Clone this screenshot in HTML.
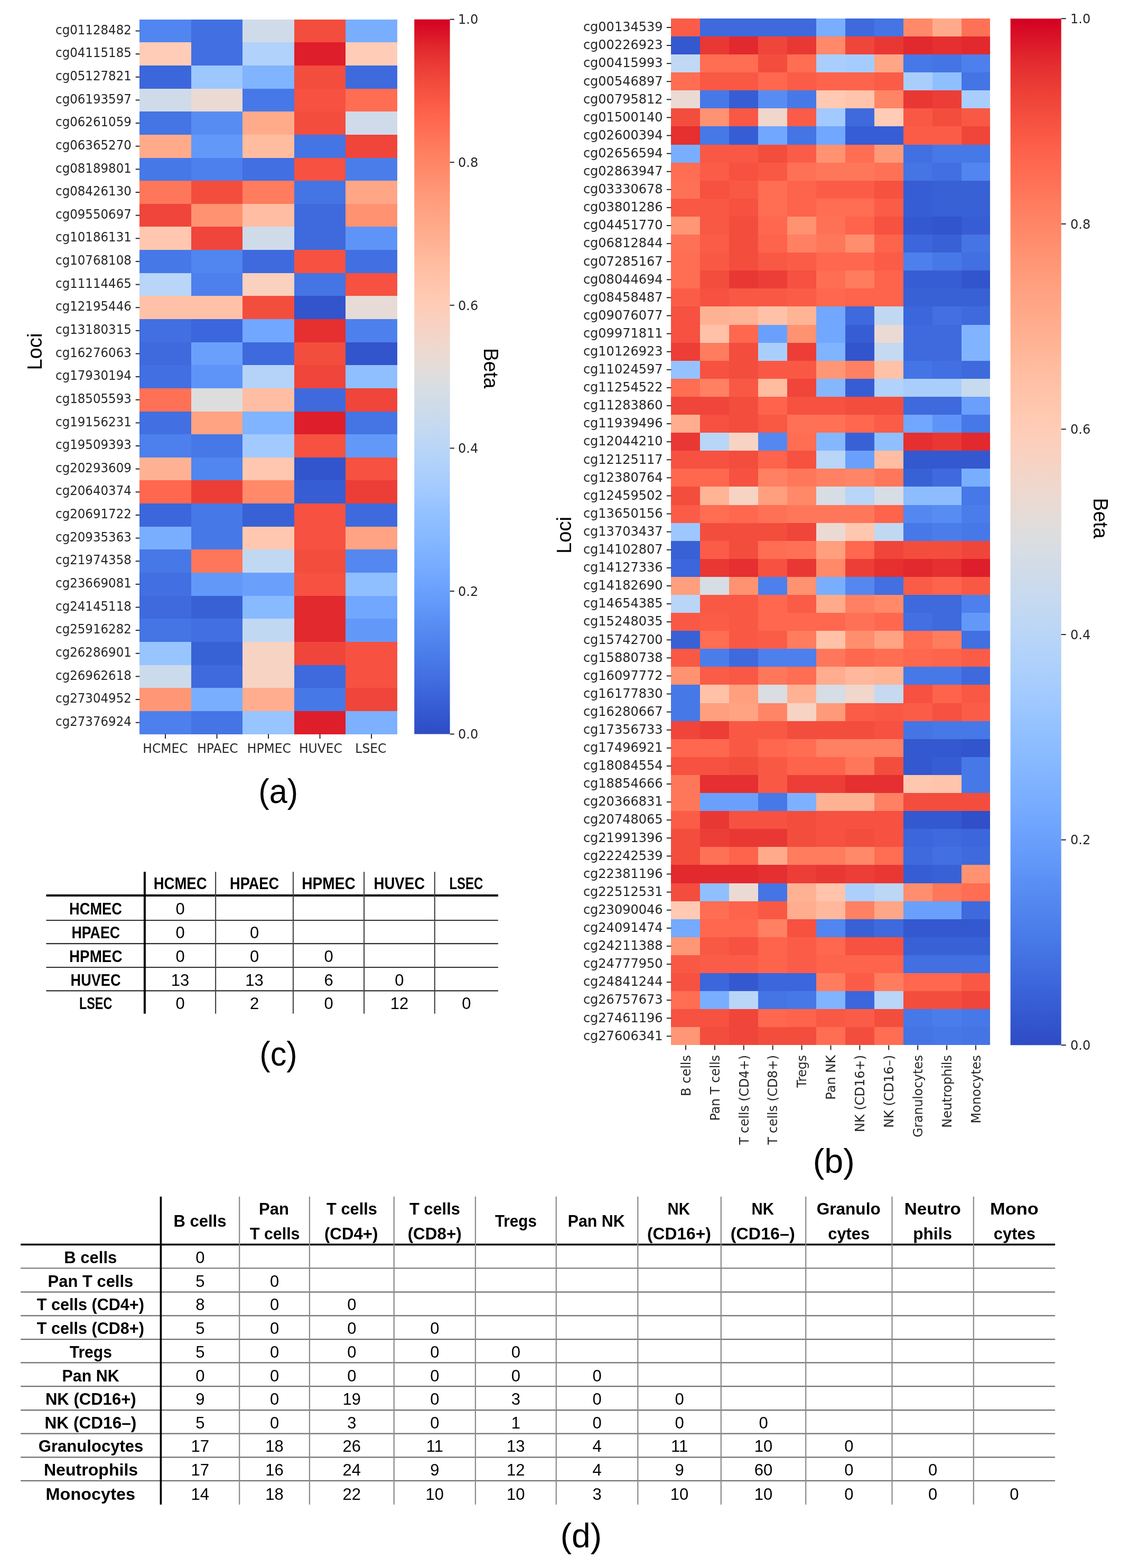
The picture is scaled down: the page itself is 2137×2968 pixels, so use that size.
<!DOCTYPE html>
<html><head><meta charset="utf-8"><title>Figure</title><style>html,body{margin:0;padding:0;background:#fff;overflow:hidden;}svg{display:block;}</style></head><body>
<svg width="2137" height="2968" viewBox="0 0 2137 2968">
<rect x="0" y="0" width="2137" height="2968" fill="#ffffff"/>
<g shape-rendering="crispEdges">
<rect x="264" y="37" width="98" height="43" fill="#5185ef"/>
<rect x="362" y="37" width="97" height="43" fill="#426fe1"/>
<rect x="459" y="37" width="98" height="43" fill="#cfdbe9"/>
<rect x="557" y="37" width="97" height="43" fill="#f34d3e"/>
<rect x="654" y="37" width="98" height="43" fill="#79aeff"/>
<rect x="264" y="80" width="98" height="44" fill="#ffccb7"/>
<rect x="362" y="80" width="97" height="44" fill="#426fe1"/>
<rect x="459" y="80" width="98" height="44" fill="#b1d2fa"/>
<rect x="557" y="80" width="97" height="44" fill="#de1e2a"/>
<rect x="654" y="80" width="98" height="44" fill="#ffccb7"/>
<rect x="264" y="124" width="98" height="44" fill="#3c66db"/>
<rect x="362" y="124" width="97" height="44" fill="#9dc7ff"/>
<rect x="459" y="124" width="98" height="44" fill="#80b4ff"/>
<rect x="557" y="124" width="97" height="44" fill="#f34d3e"/>
<rect x="654" y="124" width="98" height="44" fill="#3e6add"/>
<rect x="264" y="168" width="98" height="43" fill="#cfdbe9"/>
<rect x="362" y="168" width="97" height="43" fill="#eadad3"/>
<rect x="459" y="168" width="98" height="43" fill="#4778e7"/>
<rect x="557" y="168" width="97" height="43" fill="#f65141"/>
<rect x="654" y="168" width="98" height="43" fill="#ff6d53"/>
<rect x="264" y="211" width="98" height="44" fill="#4574e4"/>
<rect x="362" y="211" width="97" height="44" fill="#578df3"/>
<rect x="459" y="211" width="98" height="44" fill="#ffab8b"/>
<rect x="557" y="211" width="97" height="44" fill="#f34d3e"/>
<rect x="654" y="211" width="98" height="44" fill="#cfdbe9"/>
<rect x="264" y="255" width="98" height="44" fill="#ffab8b"/>
<rect x="362" y="255" width="97" height="44" fill="#6299f9"/>
<rect x="459" y="255" width="98" height="44" fill="#ffbc9f"/>
<rect x="557" y="255" width="97" height="44" fill="#4574e4"/>
<rect x="654" y="255" width="98" height="44" fill="#f0453a"/>
<rect x="264" y="299" width="98" height="43" fill="#4778e7"/>
<rect x="362" y="299" width="97" height="43" fill="#4d80ec"/>
<rect x="459" y="299" width="98" height="43" fill="#426fe1"/>
<rect x="557" y="299" width="97" height="43" fill="#f65141"/>
<rect x="654" y="299" width="98" height="43" fill="#4b7dea"/>
<rect x="264" y="342" width="98" height="44" fill="#ff775a"/>
<rect x="362" y="342" width="97" height="44" fill="#f34d3e"/>
<rect x="459" y="342" width="98" height="44" fill="#ff7c5f"/>
<rect x="557" y="342" width="97" height="44" fill="#4574e4"/>
<rect x="654" y="342" width="98" height="44" fill="#ffa686"/>
<rect x="264" y="386" width="98" height="43" fill="#f0453a"/>
<rect x="362" y="386" width="97" height="43" fill="#ff9271"/>
<rect x="459" y="386" width="98" height="43" fill="#ffbea3"/>
<rect x="557" y="386" width="97" height="43" fill="#3e6add"/>
<rect x="654" y="386" width="98" height="43" fill="#ff9271"/>
<rect x="264" y="429" width="98" height="44" fill="#ffc7af"/>
<rect x="362" y="429" width="97" height="44" fill="#f0453a"/>
<rect x="459" y="429" width="98" height="44" fill="#cfdbe9"/>
<rect x="557" y="429" width="97" height="44" fill="#3e6add"/>
<rect x="654" y="429" width="98" height="44" fill="#5e94f7"/>
<rect x="264" y="473" width="98" height="44" fill="#4778e7"/>
<rect x="362" y="473" width="97" height="44" fill="#5185ef"/>
<rect x="459" y="473" width="98" height="44" fill="#3e6add"/>
<rect x="557" y="473" width="97" height="44" fill="#f65141"/>
<rect x="654" y="473" width="98" height="44" fill="#426fe1"/>
<rect x="264" y="517" width="98" height="43" fill="#b9d5f7"/>
<rect x="362" y="517" width="97" height="43" fill="#4d80ec"/>
<rect x="459" y="517" width="98" height="43" fill="#fad0bf"/>
<rect x="557" y="517" width="97" height="43" fill="#4574e4"/>
<rect x="654" y="517" width="98" height="43" fill="#f65141"/>
<rect x="264" y="560" width="98" height="44" fill="#ffc2a8"/>
<rect x="362" y="560" width="97" height="44" fill="#ffc2a8"/>
<rect x="459" y="560" width="98" height="44" fill="#f34d3e"/>
<rect x="557" y="560" width="97" height="44" fill="#3254cc"/>
<rect x="654" y="560" width="98" height="44" fill="#e6dbd6"/>
<rect x="264" y="604" width="98" height="44" fill="#426fe1"/>
<rect x="362" y="604" width="97" height="44" fill="#3c66db"/>
<rect x="459" y="604" width="98" height="44" fill="#71a7fe"/>
<rect x="557" y="604" width="97" height="44" fill="#e52f30"/>
<rect x="654" y="604" width="98" height="44" fill="#4d80ec"/>
<rect x="264" y="648" width="98" height="43" fill="#3e6add"/>
<rect x="362" y="648" width="97" height="43" fill="#6aa0fc"/>
<rect x="459" y="648" width="98" height="43" fill="#3e6add"/>
<rect x="557" y="648" width="97" height="43" fill="#f34d3e"/>
<rect x="654" y="648" width="98" height="43" fill="#3254cc"/>
<rect x="264" y="691" width="98" height="44" fill="#426fe1"/>
<rect x="362" y="691" width="97" height="44" fill="#5e94f7"/>
<rect x="459" y="691" width="98" height="44" fill="#b5d3f9"/>
<rect x="557" y="691" width="97" height="44" fill="#f0453a"/>
<rect x="654" y="691" width="98" height="44" fill="#90bfff"/>
<rect x="264" y="735" width="98" height="44" fill="#ff7156"/>
<rect x="362" y="735" width="97" height="44" fill="#dedddd"/>
<rect x="459" y="735" width="98" height="44" fill="#ffbea3"/>
<rect x="557" y="735" width="97" height="44" fill="#3e6add"/>
<rect x="654" y="735" width="98" height="44" fill="#f0453a"/>
<rect x="264" y="779" width="98" height="43" fill="#426fe1"/>
<rect x="362" y="779" width="97" height="43" fill="#ffa383"/>
<rect x="459" y="779" width="98" height="43" fill="#80b4ff"/>
<rect x="557" y="779" width="97" height="43" fill="#de1e2a"/>
<rect x="654" y="779" width="98" height="43" fill="#4574e4"/>
<rect x="264" y="822" width="98" height="44" fill="#4d80ec"/>
<rect x="362" y="822" width="97" height="44" fill="#4778e7"/>
<rect x="459" y="822" width="98" height="44" fill="#a2caff"/>
<rect x="557" y="822" width="97" height="44" fill="#f65141"/>
<rect x="654" y="822" width="98" height="44" fill="#6299f9"/>
<rect x="264" y="866" width="98" height="43" fill="#ffb293"/>
<rect x="362" y="866" width="97" height="43" fill="#5185ef"/>
<rect x="459" y="866" width="98" height="43" fill="#ffc7af"/>
<rect x="557" y="866" width="97" height="43" fill="#3254cc"/>
<rect x="654" y="866" width="98" height="43" fill="#f65141"/>
<rect x="264" y="909" width="98" height="44" fill="#ff674f"/>
<rect x="362" y="909" width="97" height="44" fill="#ec3e36"/>
<rect x="459" y="909" width="98" height="44" fill="#ff8969"/>
<rect x="557" y="909" width="97" height="44" fill="#375dd4"/>
<rect x="654" y="909" width="98" height="44" fill="#ec3e36"/>
<rect x="264" y="953" width="98" height="44" fill="#3c66db"/>
<rect x="362" y="953" width="97" height="44" fill="#4778e7"/>
<rect x="459" y="953" width="98" height="44" fill="#3961d6"/>
<rect x="557" y="953" width="97" height="44" fill="#f65141"/>
<rect x="654" y="953" width="98" height="44" fill="#3e6add"/>
<rect x="264" y="997" width="98" height="43" fill="#79aeff"/>
<rect x="362" y="997" width="97" height="43" fill="#4778e7"/>
<rect x="459" y="997" width="98" height="43" fill="#ffc7af"/>
<rect x="557" y="997" width="97" height="43" fill="#f65141"/>
<rect x="654" y="997" width="98" height="43" fill="#ffa383"/>
<rect x="264" y="1040" width="98" height="44" fill="#4778e7"/>
<rect x="362" y="1040" width="97" height="44" fill="#ff775a"/>
<rect x="459" y="1040" width="98" height="44" fill="#c1d8f3"/>
<rect x="557" y="1040" width="97" height="44" fill="#f34d3e"/>
<rect x="654" y="1040" width="98" height="44" fill="#5488f0"/>
<rect x="264" y="1084" width="98" height="44" fill="#426fe1"/>
<rect x="362" y="1084" width="97" height="44" fill="#6299f9"/>
<rect x="459" y="1084" width="98" height="44" fill="#6aa0fc"/>
<rect x="557" y="1084" width="97" height="44" fill="#f65141"/>
<rect x="654" y="1084" width="98" height="44" fill="#90bfff"/>
<rect x="264" y="1128" width="98" height="43" fill="#3e6add"/>
<rect x="362" y="1128" width="97" height="43" fill="#3961d6"/>
<rect x="459" y="1128" width="98" height="43" fill="#88baff"/>
<rect x="557" y="1128" width="97" height="43" fill="#e2292e"/>
<rect x="654" y="1128" width="98" height="43" fill="#71a7fe"/>
<rect x="264" y="1171" width="98" height="44" fill="#4574e4"/>
<rect x="362" y="1171" width="97" height="44" fill="#426fe1"/>
<rect x="459" y="1171" width="98" height="44" fill="#c1d8f3"/>
<rect x="557" y="1171" width="97" height="44" fill="#e2292e"/>
<rect x="654" y="1171" width="98" height="44" fill="#6299f9"/>
<rect x="264" y="1215" width="98" height="44" fill="#98c4ff"/>
<rect x="362" y="1215" width="97" height="44" fill="#3961d6"/>
<rect x="459" y="1215" width="98" height="44" fill="#f7d3c4"/>
<rect x="557" y="1215" width="97" height="44" fill="#f0453a"/>
<rect x="654" y="1215" width="98" height="44" fill="#f65141"/>
<rect x="264" y="1259" width="98" height="43" fill="#ccdbeb"/>
<rect x="362" y="1259" width="97" height="43" fill="#3e6add"/>
<rect x="459" y="1259" width="98" height="43" fill="#f7d3c4"/>
<rect x="557" y="1259" width="97" height="43" fill="#3e6add"/>
<rect x="654" y="1259" width="98" height="43" fill="#f65141"/>
<rect x="264" y="1302" width="98" height="44" fill="#ff9776"/>
<rect x="362" y="1302" width="97" height="44" fill="#79aeff"/>
<rect x="459" y="1302" width="98" height="44" fill="#ffad8e"/>
<rect x="557" y="1302" width="97" height="44" fill="#4778e7"/>
<rect x="654" y="1302" width="98" height="44" fill="#f0453a"/>
<rect x="264" y="1346" width="98" height="44" fill="#4d80ec"/>
<rect x="362" y="1346" width="97" height="44" fill="#4574e4"/>
<rect x="459" y="1346" width="98" height="44" fill="#98c4ff"/>
<rect x="557" y="1346" width="97" height="44" fill="#de1e2a"/>
<rect x="654" y="1346" width="98" height="44" fill="#7db1ff"/>
</g>
<line x1="256.70" y1="58.52" x2="264.30" y2="58.52" stroke="#262626" stroke-width="2"/>
<text transform="translate(248.80,64.72) scale(0.955,1)" text-anchor="end" font-family="DejaVu Sans, sans-serif" font-size="24" fill="#262626">cg01128482</text>
<line x1="256.70" y1="102.16" x2="264.30" y2="102.16" stroke="#262626" stroke-width="2"/>
<text transform="translate(248.80,108.36) scale(0.955,1)" text-anchor="end" font-family="DejaVu Sans, sans-serif" font-size="24" fill="#262626">cg04115185</text>
<line x1="256.70" y1="145.80" x2="264.30" y2="145.80" stroke="#262626" stroke-width="2"/>
<text transform="translate(248.80,152.00) scale(0.955,1)" text-anchor="end" font-family="DejaVu Sans, sans-serif" font-size="24" fill="#262626">cg05127821</text>
<line x1="256.70" y1="189.44" x2="264.30" y2="189.44" stroke="#262626" stroke-width="2"/>
<text transform="translate(248.80,195.64) scale(0.955,1)" text-anchor="end" font-family="DejaVu Sans, sans-serif" font-size="24" fill="#262626">cg06193597</text>
<line x1="256.70" y1="233.07" x2="264.30" y2="233.07" stroke="#262626" stroke-width="2"/>
<text transform="translate(248.80,239.27) scale(0.955,1)" text-anchor="end" font-family="DejaVu Sans, sans-serif" font-size="24" fill="#262626">cg06261059</text>
<line x1="256.70" y1="276.71" x2="264.30" y2="276.71" stroke="#262626" stroke-width="2"/>
<text transform="translate(248.80,282.91) scale(0.955,1)" text-anchor="end" font-family="DejaVu Sans, sans-serif" font-size="24" fill="#262626">cg06365270</text>
<line x1="256.70" y1="320.35" x2="264.30" y2="320.35" stroke="#262626" stroke-width="2"/>
<text transform="translate(248.80,326.55) scale(0.955,1)" text-anchor="end" font-family="DejaVu Sans, sans-serif" font-size="24" fill="#262626">cg08189801</text>
<line x1="256.70" y1="363.99" x2="264.30" y2="363.99" stroke="#262626" stroke-width="2"/>
<text transform="translate(248.80,370.19) scale(0.955,1)" text-anchor="end" font-family="DejaVu Sans, sans-serif" font-size="24" fill="#262626">cg08426130</text>
<line x1="256.70" y1="407.63" x2="264.30" y2="407.63" stroke="#262626" stroke-width="2"/>
<text transform="translate(248.80,413.83) scale(0.955,1)" text-anchor="end" font-family="DejaVu Sans, sans-serif" font-size="24" fill="#262626">cg09550697</text>
<line x1="256.70" y1="451.27" x2="264.30" y2="451.27" stroke="#262626" stroke-width="2"/>
<text transform="translate(248.80,457.47) scale(0.955,1)" text-anchor="end" font-family="DejaVu Sans, sans-serif" font-size="24" fill="#262626">cg10186131</text>
<line x1="256.70" y1="494.91" x2="264.30" y2="494.91" stroke="#262626" stroke-width="2"/>
<text transform="translate(248.80,501.11) scale(0.955,1)" text-anchor="end" font-family="DejaVu Sans, sans-serif" font-size="24" fill="#262626">cg10768108</text>
<line x1="256.70" y1="538.55" x2="264.30" y2="538.55" stroke="#262626" stroke-width="2"/>
<text transform="translate(248.80,544.75) scale(0.955,1)" text-anchor="end" font-family="DejaVu Sans, sans-serif" font-size="24" fill="#262626">cg11114465</text>
<line x1="256.70" y1="582.18" x2="264.30" y2="582.18" stroke="#262626" stroke-width="2"/>
<text transform="translate(248.80,588.38) scale(0.955,1)" text-anchor="end" font-family="DejaVu Sans, sans-serif" font-size="24" fill="#262626">cg12195446</text>
<line x1="256.70" y1="625.82" x2="264.30" y2="625.82" stroke="#262626" stroke-width="2"/>
<text transform="translate(248.80,632.02) scale(0.955,1)" text-anchor="end" font-family="DejaVu Sans, sans-serif" font-size="24" fill="#262626">cg13180315</text>
<line x1="256.70" y1="669.46" x2="264.30" y2="669.46" stroke="#262626" stroke-width="2"/>
<text transform="translate(248.80,675.66) scale(0.955,1)" text-anchor="end" font-family="DejaVu Sans, sans-serif" font-size="24" fill="#262626">cg16276063</text>
<line x1="256.70" y1="713.10" x2="264.30" y2="713.10" stroke="#262626" stroke-width="2"/>
<text transform="translate(248.80,719.30) scale(0.955,1)" text-anchor="end" font-family="DejaVu Sans, sans-serif" font-size="24" fill="#262626">cg17930194</text>
<line x1="256.70" y1="756.74" x2="264.30" y2="756.74" stroke="#262626" stroke-width="2"/>
<text transform="translate(248.80,762.94) scale(0.955,1)" text-anchor="end" font-family="DejaVu Sans, sans-serif" font-size="24" fill="#262626">cg18505593</text>
<line x1="256.70" y1="800.38" x2="264.30" y2="800.38" stroke="#262626" stroke-width="2"/>
<text transform="translate(248.80,806.58) scale(0.955,1)" text-anchor="end" font-family="DejaVu Sans, sans-serif" font-size="24" fill="#262626">cg19156231</text>
<line x1="256.70" y1="844.02" x2="264.30" y2="844.02" stroke="#262626" stroke-width="2"/>
<text transform="translate(248.80,850.22) scale(0.955,1)" text-anchor="end" font-family="DejaVu Sans, sans-serif" font-size="24" fill="#262626">cg19509393</text>
<line x1="256.70" y1="887.65" x2="264.30" y2="887.65" stroke="#262626" stroke-width="2"/>
<text transform="translate(248.80,893.85) scale(0.955,1)" text-anchor="end" font-family="DejaVu Sans, sans-serif" font-size="24" fill="#262626">cg20293609</text>
<line x1="256.70" y1="931.29" x2="264.30" y2="931.29" stroke="#262626" stroke-width="2"/>
<text transform="translate(248.80,937.49) scale(0.955,1)" text-anchor="end" font-family="DejaVu Sans, sans-serif" font-size="24" fill="#262626">cg20640374</text>
<line x1="256.70" y1="974.93" x2="264.30" y2="974.93" stroke="#262626" stroke-width="2"/>
<text transform="translate(248.80,981.13) scale(0.955,1)" text-anchor="end" font-family="DejaVu Sans, sans-serif" font-size="24" fill="#262626">cg20691722</text>
<line x1="256.70" y1="1018.57" x2="264.30" y2="1018.57" stroke="#262626" stroke-width="2"/>
<text transform="translate(248.80,1024.77) scale(0.955,1)" text-anchor="end" font-family="DejaVu Sans, sans-serif" font-size="24" fill="#262626">cg20935363</text>
<line x1="256.70" y1="1062.21" x2="264.30" y2="1062.21" stroke="#262626" stroke-width="2"/>
<text transform="translate(248.80,1068.41) scale(0.955,1)" text-anchor="end" font-family="DejaVu Sans, sans-serif" font-size="24" fill="#262626">cg21974358</text>
<line x1="256.70" y1="1105.85" x2="264.30" y2="1105.85" stroke="#262626" stroke-width="2"/>
<text transform="translate(248.80,1112.05) scale(0.955,1)" text-anchor="end" font-family="DejaVu Sans, sans-serif" font-size="24" fill="#262626">cg23669081</text>
<line x1="256.70" y1="1149.49" x2="264.30" y2="1149.49" stroke="#262626" stroke-width="2"/>
<text transform="translate(248.80,1155.69) scale(0.955,1)" text-anchor="end" font-family="DejaVu Sans, sans-serif" font-size="24" fill="#262626">cg24145118</text>
<line x1="256.70" y1="1193.13" x2="264.30" y2="1193.13" stroke="#262626" stroke-width="2"/>
<text transform="translate(248.80,1199.33) scale(0.955,1)" text-anchor="end" font-family="DejaVu Sans, sans-serif" font-size="24" fill="#262626">cg25916282</text>
<line x1="256.70" y1="1236.76" x2="264.30" y2="1236.76" stroke="#262626" stroke-width="2"/>
<text transform="translate(248.80,1242.96) scale(0.955,1)" text-anchor="end" font-family="DejaVu Sans, sans-serif" font-size="24" fill="#262626">cg26286901</text>
<line x1="256.70" y1="1280.40" x2="264.30" y2="1280.40" stroke="#262626" stroke-width="2"/>
<text transform="translate(248.80,1286.60) scale(0.955,1)" text-anchor="end" font-family="DejaVu Sans, sans-serif" font-size="24" fill="#262626">cg26962618</text>
<line x1="256.70" y1="1324.04" x2="264.30" y2="1324.04" stroke="#262626" stroke-width="2"/>
<text transform="translate(248.80,1330.24) scale(0.955,1)" text-anchor="end" font-family="DejaVu Sans, sans-serif" font-size="24" fill="#262626">cg27304952</text>
<line x1="256.70" y1="1367.68" x2="264.30" y2="1367.68" stroke="#262626" stroke-width="2"/>
<text transform="translate(248.80,1373.88) scale(0.955,1)" text-anchor="end" font-family="DejaVu Sans, sans-serif" font-size="24" fill="#262626">cg27376924</text>
<line x1="313.05" y1="1389.50" x2="313.05" y2="1398.10" stroke="#262626" stroke-width="2"/>
<text transform="translate(312.95,1424.50) scale(0.975,1)" text-anchor="middle" font-family="DejaVu Sans, sans-serif" font-size="24" fill="#262626">HCMEC</text>
<line x1="410.55" y1="1389.50" x2="410.55" y2="1398.10" stroke="#262626" stroke-width="2"/>
<text transform="translate(411.85,1424.50) scale(0.975,1)" text-anchor="middle" font-family="DejaVu Sans, sans-serif" font-size="24" fill="#262626">HPAEC</text>
<line x1="508.05" y1="1389.50" x2="508.05" y2="1398.10" stroke="#262626" stroke-width="2"/>
<text transform="translate(509.35,1424.50) scale(0.975,1)" text-anchor="middle" font-family="DejaVu Sans, sans-serif" font-size="24" fill="#262626">HPMEC</text>
<line x1="605.55" y1="1389.50" x2="605.55" y2="1398.10" stroke="#262626" stroke-width="2"/>
<text transform="translate(606.85,1424.50) scale(0.975,1)" text-anchor="middle" font-family="DejaVu Sans, sans-serif" font-size="24" fill="#262626">HUVEC</text>
<line x1="703.05" y1="1389.50" x2="703.05" y2="1398.10" stroke="#262626" stroke-width="2"/>
<text transform="translate(701.85,1424.50) scale(0.975,1)" text-anchor="middle" font-family="DejaVu Sans, sans-serif" font-size="24" fill="#262626">LSEC</text>
<defs><linearGradient id="cbA" x1="0" y1="0" x2="0" y2="1"><stop offset="0.00" stop-color="#d30022"/><stop offset="0.02" stop-color="#db1428"/><stop offset="0.04" stop-color="#e2292e"/><stop offset="0.06" stop-color="#e93834"/><stop offset="0.08" stop-color="#f0453a"/><stop offset="0.10" stop-color="#f65141"/><stop offset="0.12" stop-color="#fb5c48"/><stop offset="0.14" stop-color="#ff674f"/><stop offset="0.16" stop-color="#ff7156"/><stop offset="0.18" stop-color="#ff7c5f"/><stop offset="0.20" stop-color="#ff8566"/><stop offset="0.22" stop-color="#ff8e6e"/><stop offset="0.24" stop-color="#ff9776"/><stop offset="0.26" stop-color="#ff9f7e"/><stop offset="0.28" stop-color="#ffa686"/><stop offset="0.30" stop-color="#ffad8e"/><stop offset="0.32" stop-color="#ffb496"/><stop offset="0.34" stop-color="#ffbc9f"/><stop offset="0.36" stop-color="#ffc2a8"/><stop offset="0.38" stop-color="#ffc7af"/><stop offset="0.40" stop-color="#ffccb7"/><stop offset="0.42" stop-color="#fad0bf"/><stop offset="0.44" stop-color="#f4d4c7"/><stop offset="0.46" stop-color="#eed8ce"/><stop offset="0.48" stop-color="#e6dbd6"/><stop offset="0.50" stop-color="#dedddd"/><stop offset="0.52" stop-color="#d6dde4"/><stop offset="0.54" stop-color="#cfdbe9"/><stop offset="0.56" stop-color="#c8daee"/><stop offset="0.58" stop-color="#c1d8f3"/><stop offset="0.60" stop-color="#b9d5f7"/><stop offset="0.62" stop-color="#b1d2fa"/><stop offset="0.64" stop-color="#aacefc"/><stop offset="0.66" stop-color="#a2caff"/><stop offset="0.68" stop-color="#98c4ff"/><stop offset="0.70" stop-color="#90bfff"/><stop offset="0.72" stop-color="#88baff"/><stop offset="0.74" stop-color="#80b4ff"/><stop offset="0.76" stop-color="#79aeff"/><stop offset="0.78" stop-color="#71a7fe"/><stop offset="0.80" stop-color="#6aa0fc"/><stop offset="0.82" stop-color="#6299f9"/><stop offset="0.84" stop-color="#5a90f5"/><stop offset="0.86" stop-color="#5488f0"/><stop offset="0.88" stop-color="#4d80ec"/><stop offset="0.90" stop-color="#4778e7"/><stop offset="0.92" stop-color="#426fe1"/><stop offset="0.94" stop-color="#3c66db"/><stop offset="0.96" stop-color="#375dd4"/><stop offset="0.98" stop-color="#3254cc"/><stop offset="1.00" stop-color="#2e4bc5"/></linearGradient></defs>
<rect x="784.20" y="36.70" width="67.40" height="1352.80" fill="url(#cbA)"/>
<line x1="851.60" y1="1389.50" x2="859.90" y2="1389.50" stroke="#262626" stroke-width="2"/>
<text x="867.00" y="1398.20" font-family="DejaVu Sans, sans-serif" font-size="24" fill="#262626">0.0</text>
<line x1="851.60" y1="1118.94" x2="859.90" y2="1118.94" stroke="#262626" stroke-width="2"/>
<text x="867.00" y="1127.64" font-family="DejaVu Sans, sans-serif" font-size="24" fill="#262626">0.2</text>
<line x1="851.60" y1="848.38" x2="859.90" y2="848.38" stroke="#262626" stroke-width="2"/>
<text x="867.00" y="857.08" font-family="DejaVu Sans, sans-serif" font-size="24" fill="#262626">0.4</text>
<line x1="851.60" y1="577.82" x2="859.90" y2="577.82" stroke="#262626" stroke-width="2"/>
<text x="867.00" y="586.52" font-family="DejaVu Sans, sans-serif" font-size="24" fill="#262626">0.6</text>
<line x1="851.60" y1="307.26" x2="859.90" y2="307.26" stroke="#262626" stroke-width="2"/>
<text x="867.00" y="315.96" font-family="DejaVu Sans, sans-serif" font-size="24" fill="#262626">0.8</text>
<line x1="851.60" y1="36.70" x2="859.90" y2="36.70" stroke="#262626" stroke-width="2"/>
<text x="867.00" y="45.40" font-family="DejaVu Sans, sans-serif" font-size="24" fill="#262626">1.0</text>
<g shape-rendering="crispEdges">
<rect x="1270" y="35" width="55" height="34" fill="#fb5c48"/>
<rect x="1325" y="35" width="55" height="34" fill="#3e6add"/>
<rect x="1380" y="35" width="55" height="34" fill="#3e6add"/>
<rect x="1435" y="35" width="55" height="34" fill="#3e6add"/>
<rect x="1490" y="35" width="55" height="34" fill="#3e6add"/>
<rect x="1545" y="35" width="55" height="34" fill="#79aeff"/>
<rect x="1600" y="35" width="55" height="34" fill="#3e6add"/>
<rect x="1655" y="35" width="55" height="34" fill="#4574e4"/>
<rect x="1710" y="35" width="55" height="34" fill="#ff8969"/>
<rect x="1765" y="35" width="55" height="34" fill="#ffab8b"/>
<rect x="1820" y="35" width="54" height="34" fill="#ff7156"/>
<rect x="1270" y="69" width="55" height="34" fill="#3458cf"/>
<rect x="1325" y="69" width="55" height="34" fill="#e93834"/>
<rect x="1380" y="69" width="55" height="34" fill="#e2292e"/>
<rect x="1435" y="69" width="55" height="34" fill="#f0453a"/>
<rect x="1490" y="69" width="55" height="34" fill="#e93834"/>
<rect x="1545" y="69" width="55" height="34" fill="#ff8969"/>
<rect x="1600" y="69" width="55" height="34" fill="#f0453a"/>
<rect x="1655" y="69" width="55" height="34" fill="#e93834"/>
<rect x="1710" y="69" width="55" height="34" fill="#e2292e"/>
<rect x="1765" y="69" width="55" height="34" fill="#e52f30"/>
<rect x="1820" y="69" width="54" height="34" fill="#e2292e"/>
<rect x="1270" y="103" width="55" height="34" fill="#c1d8f3"/>
<rect x="1325" y="103" width="55" height="34" fill="#ff6d53"/>
<rect x="1380" y="103" width="55" height="34" fill="#ff6d53"/>
<rect x="1435" y="103" width="55" height="34" fill="#f34d3e"/>
<rect x="1490" y="103" width="55" height="34" fill="#ff6d53"/>
<rect x="1545" y="103" width="55" height="34" fill="#aacefc"/>
<rect x="1600" y="103" width="55" height="34" fill="#a5ccfe"/>
<rect x="1655" y="103" width="55" height="34" fill="#ffa686"/>
<rect x="1710" y="103" width="55" height="34" fill="#4778e7"/>
<rect x="1765" y="103" width="55" height="34" fill="#4574e4"/>
<rect x="1820" y="103" width="54" height="34" fill="#4d80ec"/>
<rect x="1270" y="137" width="55" height="34" fill="#ff6d53"/>
<rect x="1325" y="137" width="55" height="34" fill="#f95845"/>
<rect x="1380" y="137" width="55" height="34" fill="#f95845"/>
<rect x="1435" y="137" width="55" height="34" fill="#ff674f"/>
<rect x="1490" y="137" width="55" height="34" fill="#fb5c48"/>
<rect x="1545" y="137" width="55" height="34" fill="#fe634c"/>
<rect x="1600" y="137" width="55" height="34" fill="#fe634c"/>
<rect x="1655" y="137" width="55" height="34" fill="#fb5c48"/>
<rect x="1710" y="137" width="55" height="34" fill="#aacefc"/>
<rect x="1765" y="137" width="55" height="34" fill="#90bfff"/>
<rect x="1820" y="137" width="54" height="34" fill="#4574e4"/>
<rect x="1270" y="171" width="55" height="34" fill="#eadad3"/>
<rect x="1325" y="171" width="55" height="34" fill="#4778e7"/>
<rect x="1380" y="171" width="55" height="34" fill="#375dd4"/>
<rect x="1435" y="171" width="55" height="34" fill="#578df3"/>
<rect x="1490" y="171" width="55" height="34" fill="#4778e7"/>
<rect x="1545" y="171" width="55" height="34" fill="#ffc9b3"/>
<rect x="1600" y="171" width="55" height="34" fill="#ffc4ab"/>
<rect x="1655" y="171" width="55" height="34" fill="#ff8566"/>
<rect x="1710" y="171" width="55" height="34" fill="#e93834"/>
<rect x="1765" y="171" width="55" height="34" fill="#ec3e36"/>
<rect x="1820" y="171" width="54" height="34" fill="#aacefc"/>
<rect x="1270" y="205" width="55" height="34" fill="#f34d3e"/>
<rect x="1325" y="205" width="55" height="34" fill="#ff9271"/>
<rect x="1380" y="205" width="55" height="34" fill="#f95845"/>
<rect x="1435" y="205" width="55" height="34" fill="#f0d6cb"/>
<rect x="1490" y="205" width="55" height="34" fill="#fb5c48"/>
<rect x="1545" y="205" width="55" height="34" fill="#a2caff"/>
<rect x="1600" y="205" width="55" height="34" fill="#3e6add"/>
<rect x="1655" y="205" width="55" height="34" fill="#ffccb7"/>
<rect x="1710" y="205" width="55" height="34" fill="#f95845"/>
<rect x="1765" y="205" width="55" height="34" fill="#f34d3e"/>
<rect x="1820" y="205" width="54" height="34" fill="#f95845"/>
<rect x="1270" y="239" width="55" height="35" fill="#e52f30"/>
<rect x="1325" y="239" width="55" height="35" fill="#4778e7"/>
<rect x="1380" y="239" width="55" height="35" fill="#375dd4"/>
<rect x="1435" y="239" width="55" height="35" fill="#71a7fe"/>
<rect x="1490" y="239" width="55" height="35" fill="#4574e4"/>
<rect x="1545" y="239" width="55" height="35" fill="#71a7fe"/>
<rect x="1600" y="239" width="55" height="35" fill="#375dd4"/>
<rect x="1655" y="239" width="55" height="35" fill="#375dd4"/>
<rect x="1710" y="239" width="55" height="35" fill="#fb5c48"/>
<rect x="1765" y="239" width="55" height="35" fill="#fb5c48"/>
<rect x="1820" y="239" width="54" height="35" fill="#f0453a"/>
<rect x="1270" y="274" width="55" height="34" fill="#79aeff"/>
<rect x="1325" y="274" width="55" height="34" fill="#f95845"/>
<rect x="1380" y="274" width="55" height="34" fill="#f95845"/>
<rect x="1435" y="274" width="55" height="34" fill="#f34d3e"/>
<rect x="1490" y="274" width="55" height="34" fill="#fb5c48"/>
<rect x="1545" y="274" width="55" height="34" fill="#ff9271"/>
<rect x="1600" y="274" width="55" height="34" fill="#ff6d53"/>
<rect x="1655" y="274" width="55" height="34" fill="#ff9a79"/>
<rect x="1710" y="274" width="55" height="34" fill="#426fe1"/>
<rect x="1765" y="274" width="55" height="34" fill="#4778e7"/>
<rect x="1820" y="274" width="54" height="34" fill="#4778e7"/>
<rect x="1270" y="308" width="55" height="34" fill="#ff6d53"/>
<rect x="1325" y="308" width="55" height="34" fill="#fb5c48"/>
<rect x="1380" y="308" width="55" height="34" fill="#f65141"/>
<rect x="1435" y="308" width="55" height="34" fill="#f95845"/>
<rect x="1490" y="308" width="55" height="34" fill="#ff7156"/>
<rect x="1545" y="308" width="55" height="34" fill="#ff775a"/>
<rect x="1600" y="308" width="55" height="34" fill="#ff775a"/>
<rect x="1655" y="308" width="55" height="34" fill="#ff7156"/>
<rect x="1710" y="308" width="55" height="34" fill="#4574e4"/>
<rect x="1765" y="308" width="55" height="34" fill="#426fe1"/>
<rect x="1820" y="308" width="54" height="34" fill="#5185ef"/>
<rect x="1270" y="342" width="55" height="34" fill="#ff7156"/>
<rect x="1325" y="342" width="55" height="34" fill="#f65141"/>
<rect x="1380" y="342" width="55" height="34" fill="#f95845"/>
<rect x="1435" y="342" width="55" height="34" fill="#ff6d53"/>
<rect x="1490" y="342" width="55" height="34" fill="#fe634c"/>
<rect x="1545" y="342" width="55" height="34" fill="#fb5c48"/>
<rect x="1600" y="342" width="55" height="34" fill="#fb5c48"/>
<rect x="1655" y="342" width="55" height="34" fill="#f65141"/>
<rect x="1710" y="342" width="55" height="34" fill="#375dd4"/>
<rect x="1765" y="342" width="55" height="34" fill="#3961d6"/>
<rect x="1820" y="342" width="54" height="34" fill="#3961d6"/>
<rect x="1270" y="376" width="55" height="34" fill="#f95845"/>
<rect x="1325" y="376" width="55" height="34" fill="#f95845"/>
<rect x="1380" y="376" width="55" height="34" fill="#f65141"/>
<rect x="1435" y="376" width="55" height="34" fill="#ff6d53"/>
<rect x="1490" y="376" width="55" height="34" fill="#fe634c"/>
<rect x="1545" y="376" width="55" height="34" fill="#ff6d53"/>
<rect x="1600" y="376" width="55" height="34" fill="#ff6d53"/>
<rect x="1655" y="376" width="55" height="34" fill="#fb5c48"/>
<rect x="1710" y="376" width="55" height="34" fill="#375dd4"/>
<rect x="1765" y="376" width="55" height="34" fill="#3961d6"/>
<rect x="1820" y="376" width="54" height="34" fill="#3961d6"/>
<rect x="1270" y="410" width="55" height="34" fill="#ff9776"/>
<rect x="1325" y="410" width="55" height="34" fill="#f95845"/>
<rect x="1380" y="410" width="55" height="34" fill="#f34d3e"/>
<rect x="1435" y="410" width="55" height="34" fill="#ff674f"/>
<rect x="1490" y="410" width="55" height="34" fill="#ff9271"/>
<rect x="1545" y="410" width="55" height="34" fill="#ff7156"/>
<rect x="1600" y="410" width="55" height="34" fill="#fe634c"/>
<rect x="1655" y="410" width="55" height="34" fill="#f65141"/>
<rect x="1710" y="410" width="55" height="34" fill="#3458cf"/>
<rect x="1765" y="410" width="55" height="34" fill="#3254cc"/>
<rect x="1820" y="410" width="54" height="34" fill="#375dd4"/>
<rect x="1270" y="444" width="55" height="34" fill="#ff7156"/>
<rect x="1325" y="444" width="55" height="34" fill="#fb5c48"/>
<rect x="1380" y="444" width="55" height="34" fill="#f34d3e"/>
<rect x="1435" y="444" width="55" height="34" fill="#fe634c"/>
<rect x="1490" y="444" width="55" height="34" fill="#ff8062"/>
<rect x="1545" y="444" width="55" height="34" fill="#ff775a"/>
<rect x="1600" y="444" width="55" height="34" fill="#ff8e6e"/>
<rect x="1655" y="444" width="55" height="34" fill="#fe634c"/>
<rect x="1710" y="444" width="55" height="34" fill="#3c66db"/>
<rect x="1765" y="444" width="55" height="34" fill="#3961d6"/>
<rect x="1820" y="444" width="54" height="34" fill="#4574e4"/>
<rect x="1270" y="478" width="55" height="34" fill="#ff6d53"/>
<rect x="1325" y="478" width="55" height="34" fill="#f95845"/>
<rect x="1380" y="478" width="55" height="34" fill="#f34d3e"/>
<rect x="1435" y="478" width="55" height="34" fill="#f95845"/>
<rect x="1490" y="478" width="55" height="34" fill="#fb5c48"/>
<rect x="1545" y="478" width="55" height="34" fill="#ff674f"/>
<rect x="1600" y="478" width="55" height="34" fill="#ff674f"/>
<rect x="1655" y="478" width="55" height="34" fill="#fb5c48"/>
<rect x="1710" y="478" width="55" height="34" fill="#4d80ec"/>
<rect x="1765" y="478" width="55" height="34" fill="#4778e7"/>
<rect x="1820" y="478" width="54" height="34" fill="#426fe1"/>
<rect x="1270" y="512" width="55" height="34" fill="#ff6d53"/>
<rect x="1325" y="512" width="55" height="34" fill="#f34d3e"/>
<rect x="1380" y="512" width="55" height="34" fill="#e93834"/>
<rect x="1435" y="512" width="55" height="34" fill="#ec3e36"/>
<rect x="1490" y="512" width="55" height="34" fill="#f65141"/>
<rect x="1545" y="512" width="55" height="34" fill="#ff6d53"/>
<rect x="1600" y="512" width="55" height="34" fill="#ff7c5f"/>
<rect x="1655" y="512" width="55" height="34" fill="#fe634c"/>
<rect x="1710" y="512" width="55" height="34" fill="#375dd4"/>
<rect x="1765" y="512" width="55" height="34" fill="#375dd4"/>
<rect x="1820" y="512" width="54" height="34" fill="#3254cc"/>
<rect x="1270" y="546" width="55" height="34" fill="#fb5c48"/>
<rect x="1325" y="546" width="55" height="34" fill="#f65141"/>
<rect x="1380" y="546" width="55" height="34" fill="#f95845"/>
<rect x="1435" y="546" width="55" height="34" fill="#f95845"/>
<rect x="1490" y="546" width="55" height="34" fill="#fb5c48"/>
<rect x="1545" y="546" width="55" height="34" fill="#ff674f"/>
<rect x="1600" y="546" width="55" height="34" fill="#fe634c"/>
<rect x="1655" y="546" width="55" height="34" fill="#fe634c"/>
<rect x="1710" y="546" width="55" height="34" fill="#3961d6"/>
<rect x="1765" y="546" width="55" height="34" fill="#3961d6"/>
<rect x="1820" y="546" width="54" height="34" fill="#3961d6"/>
<rect x="1270" y="580" width="55" height="35" fill="#f65141"/>
<rect x="1325" y="580" width="55" height="35" fill="#ffb293"/>
<rect x="1380" y="580" width="55" height="35" fill="#ffb496"/>
<rect x="1435" y="580" width="55" height="35" fill="#ffc2a8"/>
<rect x="1490" y="580" width="55" height="35" fill="#ffb496"/>
<rect x="1545" y="580" width="55" height="35" fill="#71a7fe"/>
<rect x="1600" y="580" width="55" height="35" fill="#3e6add"/>
<rect x="1655" y="580" width="55" height="35" fill="#c1d8f3"/>
<rect x="1710" y="580" width="55" height="35" fill="#3c66db"/>
<rect x="1765" y="580" width="55" height="35" fill="#426fe1"/>
<rect x="1820" y="580" width="54" height="35" fill="#3e6add"/>
<rect x="1270" y="615" width="55" height="34" fill="#f65141"/>
<rect x="1325" y="615" width="55" height="34" fill="#ffc2a8"/>
<rect x="1380" y="615" width="55" height="34" fill="#ff674f"/>
<rect x="1435" y="615" width="55" height="34" fill="#6aa0fc"/>
<rect x="1490" y="615" width="55" height="34" fill="#ff9271"/>
<rect x="1545" y="615" width="55" height="34" fill="#71a7fe"/>
<rect x="1600" y="615" width="55" height="34" fill="#375dd4"/>
<rect x="1655" y="615" width="55" height="34" fill="#eadad3"/>
<rect x="1710" y="615" width="55" height="34" fill="#3e6add"/>
<rect x="1765" y="615" width="55" height="34" fill="#3e6add"/>
<rect x="1820" y="615" width="54" height="34" fill="#80b4ff"/>
<rect x="1270" y="649" width="55" height="34" fill="#ec3e36"/>
<rect x="1325" y="649" width="55" height="34" fill="#ff7c5f"/>
<rect x="1380" y="649" width="55" height="34" fill="#f34d3e"/>
<rect x="1435" y="649" width="55" height="34" fill="#aacefc"/>
<rect x="1490" y="649" width="55" height="34" fill="#ec3e36"/>
<rect x="1545" y="649" width="55" height="34" fill="#80b4ff"/>
<rect x="1600" y="649" width="55" height="34" fill="#3254cc"/>
<rect x="1655" y="649" width="55" height="34" fill="#c5d9f0"/>
<rect x="1710" y="649" width="55" height="34" fill="#3e6add"/>
<rect x="1765" y="649" width="55" height="34" fill="#3e6add"/>
<rect x="1820" y="649" width="54" height="34" fill="#80b4ff"/>
<rect x="1270" y="683" width="55" height="34" fill="#95c2ff"/>
<rect x="1325" y="683" width="55" height="34" fill="#f65141"/>
<rect x="1380" y="683" width="55" height="34" fill="#f34d3e"/>
<rect x="1435" y="683" width="55" height="34" fill="#f95845"/>
<rect x="1490" y="683" width="55" height="34" fill="#f95845"/>
<rect x="1545" y="683" width="55" height="34" fill="#ff9776"/>
<rect x="1600" y="683" width="55" height="34" fill="#ff8062"/>
<rect x="1655" y="683" width="55" height="34" fill="#ffc2a8"/>
<rect x="1710" y="683" width="55" height="34" fill="#4574e4"/>
<rect x="1765" y="683" width="55" height="34" fill="#426fe1"/>
<rect x="1820" y="683" width="54" height="34" fill="#3e6add"/>
<rect x="1270" y="717" width="55" height="34" fill="#ff6d53"/>
<rect x="1325" y="717" width="55" height="34" fill="#ff8062"/>
<rect x="1380" y="717" width="55" height="34" fill="#f95845"/>
<rect x="1435" y="717" width="55" height="34" fill="#ffbc9f"/>
<rect x="1490" y="717" width="55" height="34" fill="#f0453a"/>
<rect x="1545" y="717" width="55" height="34" fill="#85b7ff"/>
<rect x="1600" y="717" width="55" height="34" fill="#375dd4"/>
<rect x="1655" y="717" width="55" height="34" fill="#b1d2fa"/>
<rect x="1710" y="717" width="55" height="34" fill="#aacefc"/>
<rect x="1765" y="717" width="55" height="34" fill="#aacefc"/>
<rect x="1820" y="717" width="54" height="34" fill="#c8daee"/>
<rect x="1270" y="751" width="55" height="34" fill="#f0453a"/>
<rect x="1325" y="751" width="55" height="34" fill="#f0453a"/>
<rect x="1380" y="751" width="55" height="34" fill="#f34d3e"/>
<rect x="1435" y="751" width="55" height="34" fill="#fe634c"/>
<rect x="1490" y="751" width="55" height="34" fill="#f65141"/>
<rect x="1545" y="751" width="55" height="34" fill="#f65141"/>
<rect x="1600" y="751" width="55" height="34" fill="#f34d3e"/>
<rect x="1655" y="751" width="55" height="34" fill="#f34d3e"/>
<rect x="1710" y="751" width="55" height="34" fill="#3e6add"/>
<rect x="1765" y="751" width="55" height="34" fill="#3e6add"/>
<rect x="1820" y="751" width="54" height="34" fill="#6aa0fc"/>
<rect x="1270" y="785" width="55" height="34" fill="#ffad8e"/>
<rect x="1325" y="785" width="55" height="34" fill="#f65141"/>
<rect x="1380" y="785" width="55" height="34" fill="#f34d3e"/>
<rect x="1435" y="785" width="55" height="34" fill="#f95845"/>
<rect x="1490" y="785" width="55" height="34" fill="#ff7156"/>
<rect x="1545" y="785" width="55" height="34" fill="#ff7156"/>
<rect x="1600" y="785" width="55" height="34" fill="#ff674f"/>
<rect x="1655" y="785" width="55" height="34" fill="#fb5c48"/>
<rect x="1710" y="785" width="55" height="34" fill="#71a7fe"/>
<rect x="1765" y="785" width="55" height="34" fill="#5e94f7"/>
<rect x="1820" y="785" width="54" height="34" fill="#4778e7"/>
<rect x="1270" y="819" width="55" height="34" fill="#e93834"/>
<rect x="1325" y="819" width="55" height="34" fill="#b9d5f7"/>
<rect x="1380" y="819" width="55" height="34" fill="#f7d3c4"/>
<rect x="1435" y="819" width="55" height="34" fill="#5488f0"/>
<rect x="1490" y="819" width="55" height="34" fill="#ff6d53"/>
<rect x="1545" y="819" width="55" height="34" fill="#85b7ff"/>
<rect x="1600" y="819" width="55" height="34" fill="#3961d6"/>
<rect x="1655" y="819" width="55" height="34" fill="#90bfff"/>
<rect x="1710" y="819" width="55" height="34" fill="#e52f30"/>
<rect x="1765" y="819" width="55" height="34" fill="#e93834"/>
<rect x="1820" y="819" width="54" height="34" fill="#e2292e"/>
<rect x="1270" y="853" width="55" height="34" fill="#f65141"/>
<rect x="1325" y="853" width="55" height="34" fill="#f65141"/>
<rect x="1380" y="853" width="55" height="34" fill="#f34d3e"/>
<rect x="1435" y="853" width="55" height="34" fill="#fe634c"/>
<rect x="1490" y="853" width="55" height="34" fill="#f65141"/>
<rect x="1545" y="853" width="55" height="34" fill="#b9d5f7"/>
<rect x="1600" y="853" width="55" height="34" fill="#6aa0fc"/>
<rect x="1655" y="853" width="55" height="34" fill="#ffbea3"/>
<rect x="1710" y="853" width="55" height="34" fill="#3458cf"/>
<rect x="1765" y="853" width="55" height="34" fill="#3458cf"/>
<rect x="1820" y="853" width="54" height="34" fill="#3458cf"/>
<rect x="1270" y="887" width="55" height="34" fill="#ff674f"/>
<rect x="1325" y="887" width="55" height="34" fill="#ff674f"/>
<rect x="1380" y="887" width="55" height="34" fill="#f65141"/>
<rect x="1435" y="887" width="55" height="34" fill="#ff8062"/>
<rect x="1490" y="887" width="55" height="34" fill="#ff775a"/>
<rect x="1545" y="887" width="55" height="34" fill="#ff8062"/>
<rect x="1600" y="887" width="55" height="34" fill="#ff8566"/>
<rect x="1655" y="887" width="55" height="34" fill="#ff775a"/>
<rect x="1710" y="887" width="55" height="34" fill="#3961d6"/>
<rect x="1765" y="887" width="55" height="34" fill="#3e6add"/>
<rect x="1820" y="887" width="54" height="34" fill="#79aeff"/>
<rect x="1270" y="921" width="55" height="35" fill="#f34d3e"/>
<rect x="1325" y="921" width="55" height="35" fill="#ffb496"/>
<rect x="1380" y="921" width="55" height="35" fill="#f7d3c4"/>
<rect x="1435" y="921" width="55" height="35" fill="#ff9f7e"/>
<rect x="1490" y="921" width="55" height="35" fill="#ff8969"/>
<rect x="1545" y="921" width="55" height="35" fill="#d6dde4"/>
<rect x="1600" y="921" width="55" height="35" fill="#b9d5f7"/>
<rect x="1655" y="921" width="55" height="35" fill="#d6dde4"/>
<rect x="1710" y="921" width="55" height="35" fill="#8dbdff"/>
<rect x="1765" y="921" width="55" height="35" fill="#8dbdff"/>
<rect x="1820" y="921" width="54" height="35" fill="#4778e7"/>
<rect x="1270" y="956" width="55" height="34" fill="#fb5c48"/>
<rect x="1325" y="956" width="55" height="34" fill="#ff6d53"/>
<rect x="1380" y="956" width="55" height="34" fill="#ff674f"/>
<rect x="1435" y="956" width="55" height="34" fill="#ff7156"/>
<rect x="1490" y="956" width="55" height="34" fill="#ff775a"/>
<rect x="1545" y="956" width="55" height="34" fill="#ff775a"/>
<rect x="1600" y="956" width="55" height="34" fill="#ff775a"/>
<rect x="1655" y="956" width="55" height="34" fill="#fe634c"/>
<rect x="1710" y="956" width="55" height="34" fill="#5488f0"/>
<rect x="1765" y="956" width="55" height="34" fill="#578df3"/>
<rect x="1820" y="956" width="54" height="34" fill="#4b7dea"/>
<rect x="1270" y="990" width="55" height="34" fill="#9dc7ff"/>
<rect x="1325" y="990" width="55" height="34" fill="#f34d3e"/>
<rect x="1380" y="990" width="55" height="34" fill="#f34d3e"/>
<rect x="1435" y="990" width="55" height="34" fill="#f34d3e"/>
<rect x="1490" y="990" width="55" height="34" fill="#f0453a"/>
<rect x="1545" y="990" width="55" height="34" fill="#eadad3"/>
<rect x="1600" y="990" width="55" height="34" fill="#ffc7af"/>
<rect x="1655" y="990" width="55" height="34" fill="#c1d8f3"/>
<rect x="1710" y="990" width="55" height="34" fill="#4778e7"/>
<rect x="1765" y="990" width="55" height="34" fill="#4b7dea"/>
<rect x="1820" y="990" width="54" height="34" fill="#4778e7"/>
<rect x="1270" y="1024" width="55" height="34" fill="#3961d6"/>
<rect x="1325" y="1024" width="55" height="34" fill="#fb5c48"/>
<rect x="1380" y="1024" width="55" height="34" fill="#f34d3e"/>
<rect x="1435" y="1024" width="55" height="34" fill="#ff6d53"/>
<rect x="1490" y="1024" width="55" height="34" fill="#ff7156"/>
<rect x="1545" y="1024" width="55" height="34" fill="#ff9f7e"/>
<rect x="1600" y="1024" width="55" height="34" fill="#ff674f"/>
<rect x="1655" y="1024" width="55" height="34" fill="#f0453a"/>
<rect x="1710" y="1024" width="55" height="34" fill="#f34d3e"/>
<rect x="1765" y="1024" width="55" height="34" fill="#f34d3e"/>
<rect x="1820" y="1024" width="54" height="34" fill="#f0453a"/>
<rect x="1270" y="1058" width="55" height="34" fill="#3c66db"/>
<rect x="1325" y="1058" width="55" height="34" fill="#e93834"/>
<rect x="1380" y="1058" width="55" height="34" fill="#e52f30"/>
<rect x="1435" y="1058" width="55" height="34" fill="#f65141"/>
<rect x="1490" y="1058" width="55" height="34" fill="#e93834"/>
<rect x="1545" y="1058" width="55" height="34" fill="#ff8969"/>
<rect x="1600" y="1058" width="55" height="34" fill="#ec3e36"/>
<rect x="1655" y="1058" width="55" height="34" fill="#e52f30"/>
<rect x="1710" y="1058" width="55" height="34" fill="#e2292e"/>
<rect x="1765" y="1058" width="55" height="34" fill="#e52f30"/>
<rect x="1820" y="1058" width="54" height="34" fill="#de1e2a"/>
<rect x="1270" y="1092" width="55" height="34" fill="#ff9f7e"/>
<rect x="1325" y="1092" width="55" height="34" fill="#d6dde4"/>
<rect x="1380" y="1092" width="55" height="34" fill="#ff9271"/>
<rect x="1435" y="1092" width="55" height="34" fill="#4d80ec"/>
<rect x="1490" y="1092" width="55" height="34" fill="#ff9271"/>
<rect x="1545" y="1092" width="55" height="34" fill="#79aeff"/>
<rect x="1600" y="1092" width="55" height="34" fill="#5488f0"/>
<rect x="1655" y="1092" width="55" height="34" fill="#426fe1"/>
<rect x="1710" y="1092" width="55" height="34" fill="#fb5c48"/>
<rect x="1765" y="1092" width="55" height="34" fill="#fe634c"/>
<rect x="1820" y="1092" width="54" height="34" fill="#f95845"/>
<rect x="1270" y="1126" width="55" height="34" fill="#b9d5f7"/>
<rect x="1325" y="1126" width="55" height="34" fill="#f95845"/>
<rect x="1380" y="1126" width="55" height="34" fill="#f95845"/>
<rect x="1435" y="1126" width="55" height="34" fill="#ff674f"/>
<rect x="1490" y="1126" width="55" height="34" fill="#fb5c48"/>
<rect x="1545" y="1126" width="55" height="34" fill="#ffab8b"/>
<rect x="1600" y="1126" width="55" height="34" fill="#ff8062"/>
<rect x="1655" y="1126" width="55" height="34" fill="#ff8969"/>
<rect x="1710" y="1126" width="55" height="34" fill="#3e6add"/>
<rect x="1765" y="1126" width="55" height="34" fill="#3e6add"/>
<rect x="1820" y="1126" width="54" height="34" fill="#4d80ec"/>
<rect x="1270" y="1160" width="55" height="34" fill="#f95845"/>
<rect x="1325" y="1160" width="55" height="34" fill="#fb5c48"/>
<rect x="1380" y="1160" width="55" height="34" fill="#f95845"/>
<rect x="1435" y="1160" width="55" height="34" fill="#ff674f"/>
<rect x="1490" y="1160" width="55" height="34" fill="#ff674f"/>
<rect x="1545" y="1160" width="55" height="34" fill="#ff674f"/>
<rect x="1600" y="1160" width="55" height="34" fill="#ff7156"/>
<rect x="1655" y="1160" width="55" height="34" fill="#ff674f"/>
<rect x="1710" y="1160" width="55" height="34" fill="#426fe1"/>
<rect x="1765" y="1160" width="55" height="34" fill="#3e6add"/>
<rect x="1820" y="1160" width="54" height="34" fill="#6299f9"/>
<rect x="1270" y="1194" width="55" height="34" fill="#3961d6"/>
<rect x="1325" y="1194" width="55" height="34" fill="#ff6d53"/>
<rect x="1380" y="1194" width="55" height="34" fill="#f95845"/>
<rect x="1435" y="1194" width="55" height="34" fill="#fb5c48"/>
<rect x="1490" y="1194" width="55" height="34" fill="#ff7c5f"/>
<rect x="1545" y="1194" width="55" height="34" fill="#ffc2a8"/>
<rect x="1600" y="1194" width="55" height="34" fill="#ff8e6e"/>
<rect x="1655" y="1194" width="55" height="34" fill="#ffa383"/>
<rect x="1710" y="1194" width="55" height="34" fill="#ff6d53"/>
<rect x="1765" y="1194" width="55" height="34" fill="#ff7c5f"/>
<rect x="1820" y="1194" width="54" height="34" fill="#426fe1"/>
<rect x="1270" y="1228" width="55" height="34" fill="#f95845"/>
<rect x="1325" y="1228" width="55" height="34" fill="#4b7dea"/>
<rect x="1380" y="1228" width="55" height="34" fill="#3e6add"/>
<rect x="1435" y="1228" width="55" height="34" fill="#4d80ec"/>
<rect x="1490" y="1228" width="55" height="34" fill="#4d80ec"/>
<rect x="1545" y="1228" width="55" height="34" fill="#ff775a"/>
<rect x="1600" y="1228" width="55" height="34" fill="#ff674f"/>
<rect x="1655" y="1228" width="55" height="34" fill="#ff6d53"/>
<rect x="1710" y="1228" width="55" height="34" fill="#ff674f"/>
<rect x="1765" y="1228" width="55" height="34" fill="#fe634c"/>
<rect x="1820" y="1228" width="54" height="34" fill="#fb5c48"/>
<rect x="1270" y="1262" width="55" height="34" fill="#ff9271"/>
<rect x="1325" y="1262" width="55" height="34" fill="#fb5c48"/>
<rect x="1380" y="1262" width="55" height="34" fill="#f95845"/>
<rect x="1435" y="1262" width="55" height="34" fill="#ff775a"/>
<rect x="1490" y="1262" width="55" height="34" fill="#ff6d53"/>
<rect x="1545" y="1262" width="55" height="34" fill="#ffad8e"/>
<rect x="1600" y="1262" width="55" height="34" fill="#ffb89b"/>
<rect x="1655" y="1262" width="55" height="34" fill="#ffb496"/>
<rect x="1710" y="1262" width="55" height="34" fill="#4778e7"/>
<rect x="1765" y="1262" width="55" height="34" fill="#4778e7"/>
<rect x="1820" y="1262" width="54" height="34" fill="#3e6add"/>
<rect x="1270" y="1296" width="55" height="35" fill="#4778e7"/>
<rect x="1325" y="1296" width="55" height="35" fill="#ffc2a8"/>
<rect x="1380" y="1296" width="55" height="35" fill="#ff9f7e"/>
<rect x="1435" y="1296" width="55" height="35" fill="#dadde1"/>
<rect x="1490" y="1296" width="55" height="35" fill="#ffb293"/>
<rect x="1545" y="1296" width="55" height="35" fill="#d6dde4"/>
<rect x="1600" y="1296" width="55" height="35" fill="#f0d6cb"/>
<rect x="1655" y="1296" width="55" height="35" fill="#c5d9f0"/>
<rect x="1710" y="1296" width="55" height="35" fill="#f65141"/>
<rect x="1765" y="1296" width="55" height="35" fill="#fe634c"/>
<rect x="1820" y="1296" width="54" height="35" fill="#f95845"/>
<rect x="1270" y="1331" width="55" height="34" fill="#4778e7"/>
<rect x="1325" y="1331" width="55" height="34" fill="#ff9f7e"/>
<rect x="1380" y="1331" width="55" height="34" fill="#ffa383"/>
<rect x="1435" y="1331" width="55" height="34" fill="#ff8566"/>
<rect x="1490" y="1331" width="55" height="34" fill="#f7d3c4"/>
<rect x="1545" y="1331" width="55" height="34" fill="#ff9a79"/>
<rect x="1600" y="1331" width="55" height="34" fill="#fb5c48"/>
<rect x="1655" y="1331" width="55" height="34" fill="#f95845"/>
<rect x="1710" y="1331" width="55" height="34" fill="#fb5c48"/>
<rect x="1765" y="1331" width="55" height="34" fill="#f65141"/>
<rect x="1820" y="1331" width="54" height="34" fill="#fb5c48"/>
<rect x="1270" y="1365" width="55" height="34" fill="#f0453a"/>
<rect x="1325" y="1365" width="55" height="34" fill="#ec3e36"/>
<rect x="1380" y="1365" width="55" height="34" fill="#f95845"/>
<rect x="1435" y="1365" width="55" height="34" fill="#f95845"/>
<rect x="1490" y="1365" width="55" height="34" fill="#f34d3e"/>
<rect x="1545" y="1365" width="55" height="34" fill="#f34d3e"/>
<rect x="1600" y="1365" width="55" height="34" fill="#f34d3e"/>
<rect x="1655" y="1365" width="55" height="34" fill="#f65141"/>
<rect x="1710" y="1365" width="55" height="34" fill="#4574e4"/>
<rect x="1765" y="1365" width="55" height="34" fill="#4778e7"/>
<rect x="1820" y="1365" width="54" height="34" fill="#4778e7"/>
<rect x="1270" y="1399" width="55" height="34" fill="#ff674f"/>
<rect x="1325" y="1399" width="55" height="34" fill="#ff674f"/>
<rect x="1380" y="1399" width="55" height="34" fill="#f95845"/>
<rect x="1435" y="1399" width="55" height="34" fill="#ff674f"/>
<rect x="1490" y="1399" width="55" height="34" fill="#ff6d53"/>
<rect x="1545" y="1399" width="55" height="34" fill="#ff8062"/>
<rect x="1600" y="1399" width="55" height="34" fill="#ff8062"/>
<rect x="1655" y="1399" width="55" height="34" fill="#ff8062"/>
<rect x="1710" y="1399" width="55" height="34" fill="#3458cf"/>
<rect x="1765" y="1399" width="55" height="34" fill="#3458cf"/>
<rect x="1820" y="1399" width="54" height="34" fill="#3254cc"/>
<rect x="1270" y="1433" width="55" height="34" fill="#f65141"/>
<rect x="1325" y="1433" width="55" height="34" fill="#f65141"/>
<rect x="1380" y="1433" width="55" height="34" fill="#f34d3e"/>
<rect x="1435" y="1433" width="55" height="34" fill="#f95845"/>
<rect x="1490" y="1433" width="55" height="34" fill="#fe634c"/>
<rect x="1545" y="1433" width="55" height="34" fill="#fe634c"/>
<rect x="1600" y="1433" width="55" height="34" fill="#ff775a"/>
<rect x="1655" y="1433" width="55" height="34" fill="#f34d3e"/>
<rect x="1710" y="1433" width="55" height="34" fill="#3458cf"/>
<rect x="1765" y="1433" width="55" height="34" fill="#375dd4"/>
<rect x="1820" y="1433" width="54" height="34" fill="#4778e7"/>
<rect x="1270" y="1467" width="55" height="34" fill="#ff775a"/>
<rect x="1325" y="1467" width="55" height="34" fill="#e52f30"/>
<rect x="1380" y="1467" width="55" height="34" fill="#e52f30"/>
<rect x="1435" y="1467" width="55" height="34" fill="#f95845"/>
<rect x="1490" y="1467" width="55" height="34" fill="#ec3e36"/>
<rect x="1545" y="1467" width="55" height="34" fill="#ec3e36"/>
<rect x="1600" y="1467" width="55" height="34" fill="#e52f30"/>
<rect x="1655" y="1467" width="55" height="34" fill="#e52f30"/>
<rect x="1710" y="1467" width="55" height="34" fill="#ffc7af"/>
<rect x="1765" y="1467" width="55" height="34" fill="#ffc4ab"/>
<rect x="1820" y="1467" width="54" height="34" fill="#4778e7"/>
<rect x="1270" y="1501" width="55" height="34" fill="#ff775a"/>
<rect x="1325" y="1501" width="55" height="34" fill="#6aa0fc"/>
<rect x="1380" y="1501" width="55" height="34" fill="#6aa0fc"/>
<rect x="1435" y="1501" width="55" height="34" fill="#4778e7"/>
<rect x="1490" y="1501" width="55" height="34" fill="#7db1ff"/>
<rect x="1545" y="1501" width="55" height="34" fill="#ffb293"/>
<rect x="1600" y="1501" width="55" height="34" fill="#ffb293"/>
<rect x="1655" y="1501" width="55" height="34" fill="#ff8062"/>
<rect x="1710" y="1501" width="55" height="34" fill="#f34d3e"/>
<rect x="1765" y="1501" width="55" height="34" fill="#f34d3e"/>
<rect x="1820" y="1501" width="54" height="34" fill="#f34d3e"/>
<rect x="1270" y="1535" width="55" height="34" fill="#fb5c48"/>
<rect x="1325" y="1535" width="55" height="34" fill="#e93834"/>
<rect x="1380" y="1535" width="55" height="34" fill="#f65141"/>
<rect x="1435" y="1535" width="55" height="34" fill="#f65141"/>
<rect x="1490" y="1535" width="55" height="34" fill="#f34d3e"/>
<rect x="1545" y="1535" width="55" height="34" fill="#f65141"/>
<rect x="1600" y="1535" width="55" height="34" fill="#f65141"/>
<rect x="1655" y="1535" width="55" height="34" fill="#f65141"/>
<rect x="1710" y="1535" width="55" height="34" fill="#3458cf"/>
<rect x="1765" y="1535" width="55" height="34" fill="#3458cf"/>
<rect x="1820" y="1535" width="54" height="34" fill="#304fc8"/>
<rect x="1270" y="1569" width="55" height="34" fill="#f34d3e"/>
<rect x="1325" y="1569" width="55" height="34" fill="#ec3e36"/>
<rect x="1380" y="1569" width="55" height="34" fill="#e93834"/>
<rect x="1435" y="1569" width="55" height="34" fill="#e93834"/>
<rect x="1490" y="1569" width="55" height="34" fill="#f34d3e"/>
<rect x="1545" y="1569" width="55" height="34" fill="#f65141"/>
<rect x="1600" y="1569" width="55" height="34" fill="#f34d3e"/>
<rect x="1655" y="1569" width="55" height="34" fill="#f65141"/>
<rect x="1710" y="1569" width="55" height="34" fill="#3c66db"/>
<rect x="1765" y="1569" width="55" height="34" fill="#3e6add"/>
<rect x="1820" y="1569" width="54" height="34" fill="#3c66db"/>
<rect x="1270" y="1603" width="55" height="34" fill="#f34d3e"/>
<rect x="1325" y="1603" width="55" height="34" fill="#ff7156"/>
<rect x="1380" y="1603" width="55" height="34" fill="#fe634c"/>
<rect x="1435" y="1603" width="55" height="34" fill="#ffab8b"/>
<rect x="1490" y="1603" width="55" height="34" fill="#ff7c5f"/>
<rect x="1545" y="1603" width="55" height="34" fill="#ff7c5f"/>
<rect x="1600" y="1603" width="55" height="34" fill="#ff8969"/>
<rect x="1655" y="1603" width="55" height="34" fill="#ff6d53"/>
<rect x="1710" y="1603" width="55" height="34" fill="#3e6add"/>
<rect x="1765" y="1603" width="55" height="34" fill="#426fe1"/>
<rect x="1820" y="1603" width="54" height="34" fill="#3e6add"/>
<rect x="1270" y="1637" width="55" height="35" fill="#e2292e"/>
<rect x="1325" y="1637" width="55" height="35" fill="#e2292e"/>
<rect x="1380" y="1637" width="55" height="35" fill="#e2292e"/>
<rect x="1435" y="1637" width="55" height="35" fill="#e52f30"/>
<rect x="1490" y="1637" width="55" height="35" fill="#ec3e36"/>
<rect x="1545" y="1637" width="55" height="35" fill="#e93834"/>
<rect x="1600" y="1637" width="55" height="35" fill="#ec3e36"/>
<rect x="1655" y="1637" width="55" height="35" fill="#e93834"/>
<rect x="1710" y="1637" width="55" height="35" fill="#375dd4"/>
<rect x="1765" y="1637" width="55" height="35" fill="#3961d6"/>
<rect x="1820" y="1637" width="54" height="35" fill="#ff9271"/>
<rect x="1270" y="1672" width="55" height="34" fill="#f34d3e"/>
<rect x="1325" y="1672" width="55" height="34" fill="#90bfff"/>
<rect x="1380" y="1672" width="55" height="34" fill="#eadad3"/>
<rect x="1435" y="1672" width="55" height="34" fill="#4574e4"/>
<rect x="1490" y="1672" width="55" height="34" fill="#ffb293"/>
<rect x="1545" y="1672" width="55" height="34" fill="#ffc4ab"/>
<rect x="1600" y="1672" width="55" height="34" fill="#adcffc"/>
<rect x="1655" y="1672" width="55" height="34" fill="#bcd6f5"/>
<rect x="1710" y="1672" width="55" height="34" fill="#ff8e6e"/>
<rect x="1765" y="1672" width="55" height="34" fill="#ff775a"/>
<rect x="1820" y="1672" width="54" height="34" fill="#ff6d53"/>
<rect x="1270" y="1706" width="55" height="34" fill="#ffc9b3"/>
<rect x="1325" y="1706" width="55" height="34" fill="#ff6d53"/>
<rect x="1380" y="1706" width="55" height="34" fill="#fe634c"/>
<rect x="1435" y="1706" width="55" height="34" fill="#f95845"/>
<rect x="1490" y="1706" width="55" height="34" fill="#ffad8e"/>
<rect x="1545" y="1706" width="55" height="34" fill="#ffb89b"/>
<rect x="1600" y="1706" width="55" height="34" fill="#ff8062"/>
<rect x="1655" y="1706" width="55" height="34" fill="#ffa686"/>
<rect x="1710" y="1706" width="55" height="34" fill="#6aa0fc"/>
<rect x="1765" y="1706" width="55" height="34" fill="#6aa0fc"/>
<rect x="1820" y="1706" width="54" height="34" fill="#3e6add"/>
<rect x="1270" y="1740" width="55" height="34" fill="#74aaff"/>
<rect x="1325" y="1740" width="55" height="34" fill="#ff674f"/>
<rect x="1380" y="1740" width="55" height="34" fill="#ff674f"/>
<rect x="1435" y="1740" width="55" height="34" fill="#ff8062"/>
<rect x="1490" y="1740" width="55" height="34" fill="#f65141"/>
<rect x="1545" y="1740" width="55" height="34" fill="#5185ef"/>
<rect x="1600" y="1740" width="55" height="34" fill="#3961d6"/>
<rect x="1655" y="1740" width="55" height="34" fill="#3e6add"/>
<rect x="1710" y="1740" width="55" height="34" fill="#3458cf"/>
<rect x="1765" y="1740" width="55" height="34" fill="#3458cf"/>
<rect x="1820" y="1740" width="54" height="34" fill="#3458cf"/>
<rect x="1270" y="1774" width="55" height="34" fill="#ff9776"/>
<rect x="1325" y="1774" width="55" height="34" fill="#f95845"/>
<rect x="1380" y="1774" width="55" height="34" fill="#f65141"/>
<rect x="1435" y="1774" width="55" height="34" fill="#fe634c"/>
<rect x="1490" y="1774" width="55" height="34" fill="#fb5c48"/>
<rect x="1545" y="1774" width="55" height="34" fill="#ff674f"/>
<rect x="1600" y="1774" width="55" height="34" fill="#f65141"/>
<rect x="1655" y="1774" width="55" height="34" fill="#f65141"/>
<rect x="1710" y="1774" width="55" height="34" fill="#3961d6"/>
<rect x="1765" y="1774" width="55" height="34" fill="#3961d6"/>
<rect x="1820" y="1774" width="54" height="34" fill="#3961d6"/>
<rect x="1270" y="1808" width="55" height="34" fill="#f95845"/>
<rect x="1325" y="1808" width="55" height="34" fill="#fb5c48"/>
<rect x="1380" y="1808" width="55" height="34" fill="#fb5c48"/>
<rect x="1435" y="1808" width="55" height="34" fill="#fe634c"/>
<rect x="1490" y="1808" width="55" height="34" fill="#fb5c48"/>
<rect x="1545" y="1808" width="55" height="34" fill="#fe634c"/>
<rect x="1600" y="1808" width="55" height="34" fill="#fe634c"/>
<rect x="1655" y="1808" width="55" height="34" fill="#fe634c"/>
<rect x="1710" y="1808" width="55" height="34" fill="#426fe1"/>
<rect x="1765" y="1808" width="55" height="34" fill="#426fe1"/>
<rect x="1820" y="1808" width="54" height="34" fill="#426fe1"/>
<rect x="1270" y="1842" width="55" height="34" fill="#f65141"/>
<rect x="1325" y="1842" width="55" height="34" fill="#3c66db"/>
<rect x="1380" y="1842" width="55" height="34" fill="#3458cf"/>
<rect x="1435" y="1842" width="55" height="34" fill="#3c66db"/>
<rect x="1490" y="1842" width="55" height="34" fill="#3c66db"/>
<rect x="1545" y="1842" width="55" height="34" fill="#ff7c5f"/>
<rect x="1600" y="1842" width="55" height="34" fill="#fb5c48"/>
<rect x="1655" y="1842" width="55" height="34" fill="#ff7c5f"/>
<rect x="1710" y="1842" width="55" height="34" fill="#ff674f"/>
<rect x="1765" y="1842" width="55" height="34" fill="#ff674f"/>
<rect x="1820" y="1842" width="54" height="34" fill="#f95845"/>
<rect x="1270" y="1876" width="55" height="34" fill="#ff6d53"/>
<rect x="1325" y="1876" width="55" height="34" fill="#79aeff"/>
<rect x="1380" y="1876" width="55" height="34" fill="#b9d5f7"/>
<rect x="1435" y="1876" width="55" height="34" fill="#4574e4"/>
<rect x="1490" y="1876" width="55" height="34" fill="#4778e7"/>
<rect x="1545" y="1876" width="55" height="34" fill="#80b4ff"/>
<rect x="1600" y="1876" width="55" height="34" fill="#3c66db"/>
<rect x="1655" y="1876" width="55" height="34" fill="#b9d5f7"/>
<rect x="1710" y="1876" width="55" height="34" fill="#f34d3e"/>
<rect x="1765" y="1876" width="55" height="34" fill="#f34d3e"/>
<rect x="1820" y="1876" width="54" height="34" fill="#f0453a"/>
<rect x="1270" y="1910" width="55" height="34" fill="#f65141"/>
<rect x="1325" y="1910" width="55" height="34" fill="#f65141"/>
<rect x="1380" y="1910" width="55" height="34" fill="#f0453a"/>
<rect x="1435" y="1910" width="55" height="34" fill="#ff674f"/>
<rect x="1490" y="1910" width="55" height="34" fill="#fe634c"/>
<rect x="1545" y="1910" width="55" height="34" fill="#f95845"/>
<rect x="1600" y="1910" width="55" height="34" fill="#fb5c48"/>
<rect x="1655" y="1910" width="55" height="34" fill="#f34d3e"/>
<rect x="1710" y="1910" width="55" height="34" fill="#4778e7"/>
<rect x="1765" y="1910" width="55" height="34" fill="#4b7dea"/>
<rect x="1820" y="1910" width="54" height="34" fill="#4778e7"/>
<rect x="1270" y="1944" width="55" height="34" fill="#ff9776"/>
<rect x="1325" y="1944" width="55" height="34" fill="#f34d3e"/>
<rect x="1380" y="1944" width="55" height="34" fill="#f0453a"/>
<rect x="1435" y="1944" width="55" height="34" fill="#f34d3e"/>
<rect x="1490" y="1944" width="55" height="34" fill="#f34d3e"/>
<rect x="1545" y="1944" width="55" height="34" fill="#ff6d53"/>
<rect x="1600" y="1944" width="55" height="34" fill="#f34d3e"/>
<rect x="1655" y="1944" width="55" height="34" fill="#ff6d53"/>
<rect x="1710" y="1944" width="55" height="34" fill="#4574e4"/>
<rect x="1765" y="1944" width="55" height="34" fill="#4778e7"/>
<rect x="1820" y="1944" width="54" height="34" fill="#4574e4"/>
</g>
<line x1="1261.90" y1="51.95" x2="1270.50" y2="51.95" stroke="#262626" stroke-width="2"/>
<text x="1254.50" y="59.25" text-anchor="end" font-family="DejaVu Sans, sans-serif" font-size="24" fill="#262626">cg00134539</text>
<line x1="1261.90" y1="86.04" x2="1270.50" y2="86.04" stroke="#262626" stroke-width="2"/>
<text x="1254.50" y="93.34" text-anchor="end" font-family="DejaVu Sans, sans-serif" font-size="24" fill="#262626">cg00226923</text>
<line x1="1261.90" y1="120.14" x2="1270.50" y2="120.14" stroke="#262626" stroke-width="2"/>
<text x="1254.50" y="127.44" text-anchor="end" font-family="DejaVu Sans, sans-serif" font-size="24" fill="#262626">cg00415993</text>
<line x1="1261.90" y1="154.24" x2="1270.50" y2="154.24" stroke="#262626" stroke-width="2"/>
<text x="1254.50" y="161.54" text-anchor="end" font-family="DejaVu Sans, sans-serif" font-size="24" fill="#262626">cg00546897</text>
<line x1="1261.90" y1="188.33" x2="1270.50" y2="188.33" stroke="#262626" stroke-width="2"/>
<text x="1254.50" y="195.63" text-anchor="end" font-family="DejaVu Sans, sans-serif" font-size="24" fill="#262626">cg00795812</text>
<line x1="1261.90" y1="222.43" x2="1270.50" y2="222.43" stroke="#262626" stroke-width="2"/>
<text x="1254.50" y="229.73" text-anchor="end" font-family="DejaVu Sans, sans-serif" font-size="24" fill="#262626">cg01500140</text>
<line x1="1261.90" y1="256.53" x2="1270.50" y2="256.53" stroke="#262626" stroke-width="2"/>
<text x="1254.50" y="263.83" text-anchor="end" font-family="DejaVu Sans, sans-serif" font-size="24" fill="#262626">cg02600394</text>
<line x1="1261.90" y1="290.62" x2="1270.50" y2="290.62" stroke="#262626" stroke-width="2"/>
<text x="1254.50" y="297.92" text-anchor="end" font-family="DejaVu Sans, sans-serif" font-size="24" fill="#262626">cg02656594</text>
<line x1="1261.90" y1="324.72" x2="1270.50" y2="324.72" stroke="#262626" stroke-width="2"/>
<text x="1254.50" y="332.02" text-anchor="end" font-family="DejaVu Sans, sans-serif" font-size="24" fill="#262626">cg02863947</text>
<line x1="1261.90" y1="358.82" x2="1270.50" y2="358.82" stroke="#262626" stroke-width="2"/>
<text x="1254.50" y="366.12" text-anchor="end" font-family="DejaVu Sans, sans-serif" font-size="24" fill="#262626">cg03330678</text>
<line x1="1261.90" y1="392.91" x2="1270.50" y2="392.91" stroke="#262626" stroke-width="2"/>
<text x="1254.50" y="400.21" text-anchor="end" font-family="DejaVu Sans, sans-serif" font-size="24" fill="#262626">cg03801286</text>
<line x1="1261.90" y1="427.01" x2="1270.50" y2="427.01" stroke="#262626" stroke-width="2"/>
<text x="1254.50" y="434.31" text-anchor="end" font-family="DejaVu Sans, sans-serif" font-size="24" fill="#262626">cg04451770</text>
<line x1="1261.90" y1="461.11" x2="1270.50" y2="461.11" stroke="#262626" stroke-width="2"/>
<text x="1254.50" y="468.41" text-anchor="end" font-family="DejaVu Sans, sans-serif" font-size="24" fill="#262626">cg06812844</text>
<line x1="1261.90" y1="495.20" x2="1270.50" y2="495.20" stroke="#262626" stroke-width="2"/>
<text x="1254.50" y="502.50" text-anchor="end" font-family="DejaVu Sans, sans-serif" font-size="24" fill="#262626">cg07285167</text>
<line x1="1261.90" y1="529.30" x2="1270.50" y2="529.30" stroke="#262626" stroke-width="2"/>
<text x="1254.50" y="536.60" text-anchor="end" font-family="DejaVu Sans, sans-serif" font-size="24" fill="#262626">cg08044694</text>
<line x1="1261.90" y1="563.40" x2="1270.50" y2="563.40" stroke="#262626" stroke-width="2"/>
<text x="1254.50" y="570.70" text-anchor="end" font-family="DejaVu Sans, sans-serif" font-size="24" fill="#262626">cg08458487</text>
<line x1="1261.90" y1="597.49" x2="1270.50" y2="597.49" stroke="#262626" stroke-width="2"/>
<text x="1254.50" y="604.79" text-anchor="end" font-family="DejaVu Sans, sans-serif" font-size="24" fill="#262626">cg09076077</text>
<line x1="1261.90" y1="631.59" x2="1270.50" y2="631.59" stroke="#262626" stroke-width="2"/>
<text x="1254.50" y="638.89" text-anchor="end" font-family="DejaVu Sans, sans-serif" font-size="24" fill="#262626">cg09971811</text>
<line x1="1261.90" y1="665.69" x2="1270.50" y2="665.69" stroke="#262626" stroke-width="2"/>
<text x="1254.50" y="672.99" text-anchor="end" font-family="DejaVu Sans, sans-serif" font-size="24" fill="#262626">cg10126923</text>
<line x1="1261.90" y1="699.78" x2="1270.50" y2="699.78" stroke="#262626" stroke-width="2"/>
<text x="1254.50" y="707.08" text-anchor="end" font-family="DejaVu Sans, sans-serif" font-size="24" fill="#262626">cg11024597</text>
<line x1="1261.90" y1="733.88" x2="1270.50" y2="733.88" stroke="#262626" stroke-width="2"/>
<text x="1254.50" y="741.18" text-anchor="end" font-family="DejaVu Sans, sans-serif" font-size="24" fill="#262626">cg11254522</text>
<line x1="1261.90" y1="767.97" x2="1270.50" y2="767.97" stroke="#262626" stroke-width="2"/>
<text x="1254.50" y="775.27" text-anchor="end" font-family="DejaVu Sans, sans-serif" font-size="24" fill="#262626">cg11283860</text>
<line x1="1261.90" y1="802.07" x2="1270.50" y2="802.07" stroke="#262626" stroke-width="2"/>
<text x="1254.50" y="809.37" text-anchor="end" font-family="DejaVu Sans, sans-serif" font-size="24" fill="#262626">cg11939496</text>
<line x1="1261.90" y1="836.17" x2="1270.50" y2="836.17" stroke="#262626" stroke-width="2"/>
<text x="1254.50" y="843.47" text-anchor="end" font-family="DejaVu Sans, sans-serif" font-size="24" fill="#262626">cg12044210</text>
<line x1="1261.90" y1="870.26" x2="1270.50" y2="870.26" stroke="#262626" stroke-width="2"/>
<text x="1254.50" y="877.56" text-anchor="end" font-family="DejaVu Sans, sans-serif" font-size="24" fill="#262626">cg12125117</text>
<line x1="1261.90" y1="904.36" x2="1270.50" y2="904.36" stroke="#262626" stroke-width="2"/>
<text x="1254.50" y="911.66" text-anchor="end" font-family="DejaVu Sans, sans-serif" font-size="24" fill="#262626">cg12380764</text>
<line x1="1261.90" y1="938.46" x2="1270.50" y2="938.46" stroke="#262626" stroke-width="2"/>
<text x="1254.50" y="945.76" text-anchor="end" font-family="DejaVu Sans, sans-serif" font-size="24" fill="#262626">cg12459502</text>
<line x1="1261.90" y1="972.55" x2="1270.50" y2="972.55" stroke="#262626" stroke-width="2"/>
<text x="1254.50" y="979.85" text-anchor="end" font-family="DejaVu Sans, sans-serif" font-size="24" fill="#262626">cg13650156</text>
<line x1="1261.90" y1="1006.65" x2="1270.50" y2="1006.65" stroke="#262626" stroke-width="2"/>
<text x="1254.50" y="1013.95" text-anchor="end" font-family="DejaVu Sans, sans-serif" font-size="24" fill="#262626">cg13703437</text>
<line x1="1261.90" y1="1040.75" x2="1270.50" y2="1040.75" stroke="#262626" stroke-width="2"/>
<text x="1254.50" y="1048.05" text-anchor="end" font-family="DejaVu Sans, sans-serif" font-size="24" fill="#262626">cg14102807</text>
<line x1="1261.90" y1="1074.84" x2="1270.50" y2="1074.84" stroke="#262626" stroke-width="2"/>
<text x="1254.50" y="1082.14" text-anchor="end" font-family="DejaVu Sans, sans-serif" font-size="24" fill="#262626">cg14127336</text>
<line x1="1261.90" y1="1108.94" x2="1270.50" y2="1108.94" stroke="#262626" stroke-width="2"/>
<text x="1254.50" y="1116.24" text-anchor="end" font-family="DejaVu Sans, sans-serif" font-size="24" fill="#262626">cg14182690</text>
<line x1="1261.90" y1="1143.04" x2="1270.50" y2="1143.04" stroke="#262626" stroke-width="2"/>
<text x="1254.50" y="1150.34" text-anchor="end" font-family="DejaVu Sans, sans-serif" font-size="24" fill="#262626">cg14654385</text>
<line x1="1261.90" y1="1177.13" x2="1270.50" y2="1177.13" stroke="#262626" stroke-width="2"/>
<text x="1254.50" y="1184.43" text-anchor="end" font-family="DejaVu Sans, sans-serif" font-size="24" fill="#262626">cg15248035</text>
<line x1="1261.90" y1="1211.23" x2="1270.50" y2="1211.23" stroke="#262626" stroke-width="2"/>
<text x="1254.50" y="1218.53" text-anchor="end" font-family="DejaVu Sans, sans-serif" font-size="24" fill="#262626">cg15742700</text>
<line x1="1261.90" y1="1245.33" x2="1270.50" y2="1245.33" stroke="#262626" stroke-width="2"/>
<text x="1254.50" y="1252.63" text-anchor="end" font-family="DejaVu Sans, sans-serif" font-size="24" fill="#262626">cg15880738</text>
<line x1="1261.90" y1="1279.42" x2="1270.50" y2="1279.42" stroke="#262626" stroke-width="2"/>
<text x="1254.50" y="1286.72" text-anchor="end" font-family="DejaVu Sans, sans-serif" font-size="24" fill="#262626">cg16097772</text>
<line x1="1261.90" y1="1313.52" x2="1270.50" y2="1313.52" stroke="#262626" stroke-width="2"/>
<text x="1254.50" y="1320.82" text-anchor="end" font-family="DejaVu Sans, sans-serif" font-size="24" fill="#262626">cg16177830</text>
<line x1="1261.90" y1="1347.61" x2="1270.50" y2="1347.61" stroke="#262626" stroke-width="2"/>
<text x="1254.50" y="1354.91" text-anchor="end" font-family="DejaVu Sans, sans-serif" font-size="24" fill="#262626">cg16280667</text>
<line x1="1261.90" y1="1381.71" x2="1270.50" y2="1381.71" stroke="#262626" stroke-width="2"/>
<text x="1254.50" y="1389.01" text-anchor="end" font-family="DejaVu Sans, sans-serif" font-size="24" fill="#262626">cg17356733</text>
<line x1="1261.90" y1="1415.81" x2="1270.50" y2="1415.81" stroke="#262626" stroke-width="2"/>
<text x="1254.50" y="1423.11" text-anchor="end" font-family="DejaVu Sans, sans-serif" font-size="24" fill="#262626">cg17496921</text>
<line x1="1261.90" y1="1449.90" x2="1270.50" y2="1449.90" stroke="#262626" stroke-width="2"/>
<text x="1254.50" y="1457.20" text-anchor="end" font-family="DejaVu Sans, sans-serif" font-size="24" fill="#262626">cg18084554</text>
<line x1="1261.90" y1="1484.00" x2="1270.50" y2="1484.00" stroke="#262626" stroke-width="2"/>
<text x="1254.50" y="1491.30" text-anchor="end" font-family="DejaVu Sans, sans-serif" font-size="24" fill="#262626">cg18854666</text>
<line x1="1261.90" y1="1518.10" x2="1270.50" y2="1518.10" stroke="#262626" stroke-width="2"/>
<text x="1254.50" y="1525.40" text-anchor="end" font-family="DejaVu Sans, sans-serif" font-size="24" fill="#262626">cg20366831</text>
<line x1="1261.90" y1="1552.19" x2="1270.50" y2="1552.19" stroke="#262626" stroke-width="2"/>
<text x="1254.50" y="1559.49" text-anchor="end" font-family="DejaVu Sans, sans-serif" font-size="24" fill="#262626">cg20748065</text>
<line x1="1261.90" y1="1586.29" x2="1270.50" y2="1586.29" stroke="#262626" stroke-width="2"/>
<text x="1254.50" y="1593.59" text-anchor="end" font-family="DejaVu Sans, sans-serif" font-size="24" fill="#262626">cg21991396</text>
<line x1="1261.90" y1="1620.39" x2="1270.50" y2="1620.39" stroke="#262626" stroke-width="2"/>
<text x="1254.50" y="1627.69" text-anchor="end" font-family="DejaVu Sans, sans-serif" font-size="24" fill="#262626">cg22242539</text>
<line x1="1261.90" y1="1654.48" x2="1270.50" y2="1654.48" stroke="#262626" stroke-width="2"/>
<text x="1254.50" y="1661.78" text-anchor="end" font-family="DejaVu Sans, sans-serif" font-size="24" fill="#262626">cg22381196</text>
<line x1="1261.90" y1="1688.58" x2="1270.50" y2="1688.58" stroke="#262626" stroke-width="2"/>
<text x="1254.50" y="1695.88" text-anchor="end" font-family="DejaVu Sans, sans-serif" font-size="24" fill="#262626">cg22512531</text>
<line x1="1261.90" y1="1722.68" x2="1270.50" y2="1722.68" stroke="#262626" stroke-width="2"/>
<text x="1254.50" y="1729.98" text-anchor="end" font-family="DejaVu Sans, sans-serif" font-size="24" fill="#262626">cg23090046</text>
<line x1="1261.90" y1="1756.77" x2="1270.50" y2="1756.77" stroke="#262626" stroke-width="2"/>
<text x="1254.50" y="1764.07" text-anchor="end" font-family="DejaVu Sans, sans-serif" font-size="24" fill="#262626">cg24091474</text>
<line x1="1261.90" y1="1790.87" x2="1270.50" y2="1790.87" stroke="#262626" stroke-width="2"/>
<text x="1254.50" y="1798.17" text-anchor="end" font-family="DejaVu Sans, sans-serif" font-size="24" fill="#262626">cg24211388</text>
<line x1="1261.90" y1="1824.97" x2="1270.50" y2="1824.97" stroke="#262626" stroke-width="2"/>
<text x="1254.50" y="1832.27" text-anchor="end" font-family="DejaVu Sans, sans-serif" font-size="24" fill="#262626">cg24777950</text>
<line x1="1261.90" y1="1859.06" x2="1270.50" y2="1859.06" stroke="#262626" stroke-width="2"/>
<text x="1254.50" y="1866.36" text-anchor="end" font-family="DejaVu Sans, sans-serif" font-size="24" fill="#262626">cg24841244</text>
<line x1="1261.90" y1="1893.16" x2="1270.50" y2="1893.16" stroke="#262626" stroke-width="2"/>
<text x="1254.50" y="1900.46" text-anchor="end" font-family="DejaVu Sans, sans-serif" font-size="24" fill="#262626">cg26757673</text>
<line x1="1261.90" y1="1927.26" x2="1270.50" y2="1927.26" stroke="#262626" stroke-width="2"/>
<text x="1254.50" y="1934.56" text-anchor="end" font-family="DejaVu Sans, sans-serif" font-size="24" fill="#262626">cg27461196</text>
<line x1="1261.90" y1="1961.35" x2="1270.50" y2="1961.35" stroke="#262626" stroke-width="2"/>
<text x="1254.50" y="1968.65" text-anchor="end" font-family="DejaVu Sans, sans-serif" font-size="24" fill="#262626">cg27606341</text>
<line x1="1297.95" y1="1978.40" x2="1297.95" y2="1987.40" stroke="#262626" stroke-width="2"/>
<text transform="translate(1306.70,1997.00) rotate(-90) scale(1.0,1)" text-anchor="end" font-family="DejaVu Sans, sans-serif" font-size="24" fill="#262626">B cells</text>
<line x1="1352.85" y1="1978.40" x2="1352.85" y2="1987.40" stroke="#262626" stroke-width="2"/>
<text transform="translate(1361.60,1997.00) rotate(-90) scale(0.98,1)" text-anchor="end" font-family="DejaVu Sans, sans-serif" font-size="24" fill="#262626">Pan T cells</text>
<line x1="1407.75" y1="1978.40" x2="1407.75" y2="1987.40" stroke="#262626" stroke-width="2"/>
<text transform="translate(1416.50,1997.00) rotate(-90) scale(0.982,1)" text-anchor="end" font-family="DejaVu Sans, sans-serif" font-size="24" fill="#262626">T cells (CD4+)</text>
<line x1="1462.65" y1="1978.40" x2="1462.65" y2="1987.40" stroke="#262626" stroke-width="2"/>
<text transform="translate(1471.40,1997.00) rotate(-90) scale(0.982,1)" text-anchor="end" font-family="DejaVu Sans, sans-serif" font-size="24" fill="#262626">T cells (CD8+)</text>
<line x1="1517.55" y1="1978.40" x2="1517.55" y2="1987.40" stroke="#262626" stroke-width="2"/>
<text transform="translate(1526.30,1997.00) rotate(-90) scale(0.98,1)" text-anchor="end" font-family="DejaVu Sans, sans-serif" font-size="24" fill="#262626">Tregs</text>
<line x1="1572.45" y1="1978.40" x2="1572.45" y2="1987.40" stroke="#262626" stroke-width="2"/>
<text transform="translate(1581.20,1997.00) rotate(-90) scale(1.0,1)" text-anchor="end" font-family="DejaVu Sans, sans-serif" font-size="24" fill="#262626">Pan NK</text>
<line x1="1627.35" y1="1978.40" x2="1627.35" y2="1987.40" stroke="#262626" stroke-width="2"/>
<text transform="translate(1636.10,1997.00) rotate(-90) scale(1.0,1)" text-anchor="end" font-family="DejaVu Sans, sans-serif" font-size="24" fill="#262626">NK (CD16+)</text>
<line x1="1682.25" y1="1978.40" x2="1682.25" y2="1987.40" stroke="#262626" stroke-width="2"/>
<text transform="translate(1691.00,1997.00) rotate(-90) scale(1.0,1)" text-anchor="end" font-family="DejaVu Sans, sans-serif" font-size="24" fill="#262626">NK (CD16–)</text>
<line x1="1737.15" y1="1978.40" x2="1737.15" y2="1987.40" stroke="#262626" stroke-width="2"/>
<text transform="translate(1745.90,1997.00) rotate(-90) scale(0.98,1)" text-anchor="end" font-family="DejaVu Sans, sans-serif" font-size="24" fill="#262626">Granulocytes</text>
<line x1="1792.05" y1="1978.40" x2="1792.05" y2="1987.40" stroke="#262626" stroke-width="2"/>
<text transform="translate(1800.80,1997.00) rotate(-90) scale(1.0,1)" text-anchor="end" font-family="DejaVu Sans, sans-serif" font-size="24" fill="#262626">Neutrophils</text>
<line x1="1846.95" y1="1978.40" x2="1846.95" y2="1987.40" stroke="#262626" stroke-width="2"/>
<text transform="translate(1855.70,1997.00) rotate(-90) scale(1.0,1)" text-anchor="end" font-family="DejaVu Sans, sans-serif" font-size="24" fill="#262626">Monocytes</text>
<defs><linearGradient id="cbB" x1="0" y1="0" x2="0" y2="1"><stop offset="0.00" stop-color="#d30022"/><stop offset="0.02" stop-color="#db1428"/><stop offset="0.04" stop-color="#e2292e"/><stop offset="0.06" stop-color="#e93834"/><stop offset="0.08" stop-color="#f0453a"/><stop offset="0.10" stop-color="#f65141"/><stop offset="0.12" stop-color="#fb5c48"/><stop offset="0.14" stop-color="#ff674f"/><stop offset="0.16" stop-color="#ff7156"/><stop offset="0.18" stop-color="#ff7c5f"/><stop offset="0.20" stop-color="#ff8566"/><stop offset="0.22" stop-color="#ff8e6e"/><stop offset="0.24" stop-color="#ff9776"/><stop offset="0.26" stop-color="#ff9f7e"/><stop offset="0.28" stop-color="#ffa686"/><stop offset="0.30" stop-color="#ffad8e"/><stop offset="0.32" stop-color="#ffb496"/><stop offset="0.34" stop-color="#ffbc9f"/><stop offset="0.36" stop-color="#ffc2a8"/><stop offset="0.38" stop-color="#ffc7af"/><stop offset="0.40" stop-color="#ffccb7"/><stop offset="0.42" stop-color="#fad0bf"/><stop offset="0.44" stop-color="#f4d4c7"/><stop offset="0.46" stop-color="#eed8ce"/><stop offset="0.48" stop-color="#e6dbd6"/><stop offset="0.50" stop-color="#dedddd"/><stop offset="0.52" stop-color="#d6dde4"/><stop offset="0.54" stop-color="#cfdbe9"/><stop offset="0.56" stop-color="#c8daee"/><stop offset="0.58" stop-color="#c1d8f3"/><stop offset="0.60" stop-color="#b9d5f7"/><stop offset="0.62" stop-color="#b1d2fa"/><stop offset="0.64" stop-color="#aacefc"/><stop offset="0.66" stop-color="#a2caff"/><stop offset="0.68" stop-color="#98c4ff"/><stop offset="0.70" stop-color="#90bfff"/><stop offset="0.72" stop-color="#88baff"/><stop offset="0.74" stop-color="#80b4ff"/><stop offset="0.76" stop-color="#79aeff"/><stop offset="0.78" stop-color="#71a7fe"/><stop offset="0.80" stop-color="#6aa0fc"/><stop offset="0.82" stop-color="#6299f9"/><stop offset="0.84" stop-color="#5a90f5"/><stop offset="0.86" stop-color="#5488f0"/><stop offset="0.88" stop-color="#4d80ec"/><stop offset="0.90" stop-color="#4778e7"/><stop offset="0.92" stop-color="#426fe1"/><stop offset="0.94" stop-color="#3c66db"/><stop offset="0.96" stop-color="#375dd4"/><stop offset="0.98" stop-color="#3254cc"/><stop offset="1.00" stop-color="#2e4bc5"/></linearGradient></defs>
<rect x="1912.60" y="35.20" width="96.10" height="1943.10" fill="url(#cbB)"/>
<line x1="2008.70" y1="1978.30" x2="2017.70" y2="1978.30" stroke="#262626" stroke-width="2"/>
<text x="2026.00" y="1987.00" font-family="DejaVu Sans, sans-serif" font-size="24" fill="#262626">0.0</text>
<line x1="2008.70" y1="1589.68" x2="2017.70" y2="1589.68" stroke="#262626" stroke-width="2"/>
<text x="2026.00" y="1598.38" font-family="DejaVu Sans, sans-serif" font-size="24" fill="#262626">0.2</text>
<line x1="2008.70" y1="1201.06" x2="2017.70" y2="1201.06" stroke="#262626" stroke-width="2"/>
<text x="2026.00" y="1209.76" font-family="DejaVu Sans, sans-serif" font-size="24" fill="#262626">0.4</text>
<line x1="2008.70" y1="812.44" x2="2017.70" y2="812.44" stroke="#262626" stroke-width="2"/>
<text x="2026.00" y="821.14" font-family="DejaVu Sans, sans-serif" font-size="24" fill="#262626">0.6</text>
<line x1="2008.70" y1="423.82" x2="2017.70" y2="423.82" stroke="#262626" stroke-width="2"/>
<text x="2026.00" y="432.52" font-family="DejaVu Sans, sans-serif" font-size="24" fill="#262626">0.8</text>
<line x1="2008.70" y1="35.20" x2="2017.70" y2="35.20" stroke="#262626" stroke-width="2"/>
<text x="2026.00" y="43.90" font-family="DejaVu Sans, sans-serif" font-size="24" fill="#262626">1.0</text>
<text transform="translate(79.40,700.44) rotate(-90) scale(0.9907,1)" font-size="38.4" font-family="Liberation Sans, Arial, sans-serif" fill="#000">Loci</text>
<text transform="translate(915.90,659.02) rotate(90) scale(0.9691,1)" font-size="38.4" font-family="Liberation Sans, Arial, sans-serif" fill="#000">Beta</text>
<text transform="translate(1080.80,1048.05) rotate(-90) scale(0.9938,1)" font-size="38.4" font-family="Liberation Sans, Arial, sans-serif" fill="#000">Loci</text>
<text transform="translate(2070.10,942.82) rotate(90) scale(0.9691,1)" font-size="38.4" font-family="Liberation Sans, Arial, sans-serif" fill="#000">Beta</text>
<text transform="translate(489.33,1520.30) scale(0.9560,1)" font-size="64" font-family="Liberation Sans, Arial, sans-serif" fill="#000">(a)</text>
<text transform="translate(491.22,2017.20) scale(0.9584,1)" font-size="64" font-family="Liberation Sans, Arial, sans-serif" fill="#000">(c)</text>
<text transform="translate(1538.72,2219.80) scale(1.0099,1)" font-size="64" font-family="Liberation Sans, Arial, sans-serif" fill="#000">(b)</text>
<text transform="translate(1060.75,2929.00) scale(1.0014,1)" font-size="64" font-family="Liberation Sans, Arial, sans-serif" fill="#000">(d)</text>
<line x1="87.4" y1="1694.9" x2="942.9" y2="1694.9" stroke="#000" stroke-width="4"/>
<line x1="87.4" y1="1742.0" x2="942.9" y2="1742.0" stroke="#2e2e2e" stroke-width="2.2"/>
<line x1="87.4" y1="1786.2" x2="942.9" y2="1786.2" stroke="#2e2e2e" stroke-width="2.2"/>
<line x1="87.4" y1="1831.0" x2="942.9" y2="1831.0" stroke="#2e2e2e" stroke-width="2.2"/>
<line x1="87.4" y1="1875.4" x2="942.9" y2="1875.4" stroke="#2e2e2e" stroke-width="2.2"/>
<line x1="273.9" y1="1650.2" x2="273.9" y2="1918.8" stroke="#000" stroke-width="4"/>
<line x1="408.1" y1="1650.2" x2="408.1" y2="1918.8" stroke="#484848" stroke-width="2.2"/>
<line x1="555.0" y1="1650.2" x2="555.0" y2="1918.8" stroke="#484848" stroke-width="2.2"/>
<line x1="689.1" y1="1650.2" x2="689.1" y2="1918.8" stroke="#484848" stroke-width="2.2"/>
<line x1="822.8" y1="1650.2" x2="822.8" y2="1918.8" stroke="#484848" stroke-width="2.2"/>
<text transform="translate(290.71,1683.00) scale(0.8870,1)" font-size="31" font-weight="bold" font-family="Liberation Sans, Arial, sans-serif" fill="#000">HCMEC</text>
<text transform="translate(435.03,1683.00) scale(0.8763,1)" font-size="31" font-weight="bold" font-family="Liberation Sans, Arial, sans-serif" fill="#000">HPAEC</text>
<text transform="translate(571.17,1683.00) scale(0.9073,1)" font-size="31" font-weight="bold" font-family="Liberation Sans, Arial, sans-serif" fill="#000">HPMEC</text>
<text transform="translate(707.51,1683.00) scale(0.8902,1)" font-size="31" font-weight="bold" font-family="Liberation Sans, Arial, sans-serif" fill="#000">HUVEC</text>
<text transform="translate(850.44,1683.00) scale(0.7742,1)" font-size="31" font-weight="bold" font-family="Liberation Sans, Arial, sans-serif" fill="#000">LSEC</text>
<text transform="translate(131.03,1731.30) scale(0.8798,1)" font-size="31" font-weight="bold" font-family="Liberation Sans, Arial, sans-serif" fill="#000">HCMEC</text>
<text x="341.00" y="1731.30" text-anchor="middle" font-size="31" font-family="Liberation Sans, Arial, sans-serif" fill="#000">0</text>
<text transform="translate(135.46,1775.90) scale(0.8628,1)" font-size="31" font-weight="bold" font-family="Liberation Sans, Arial, sans-serif" fill="#000">HPAEC</text>
<text x="341.00" y="1775.90" text-anchor="middle" font-size="31" font-family="Liberation Sans, Arial, sans-serif" fill="#000">0</text>
<text x="481.55" y="1775.90" text-anchor="middle" font-size="31" font-family="Liberation Sans, Arial, sans-serif" fill="#000">0</text>
<text transform="translate(130.99,1821.00) scale(0.8981,1)" font-size="31" font-weight="bold" font-family="Liberation Sans, Arial, sans-serif" fill="#000">HPMEC</text>
<text x="341.00" y="1821.00" text-anchor="middle" font-size="31" font-family="Liberation Sans, Arial, sans-serif" fill="#000">0</text>
<text x="481.55" y="1821.00" text-anchor="middle" font-size="31" font-family="Liberation Sans, Arial, sans-serif" fill="#000">0</text>
<text x="622.05" y="1821.00" text-anchor="middle" font-size="31" font-family="Liberation Sans, Arial, sans-serif" fill="#000">0</text>
<text transform="translate(133.53,1866.00) scale(0.8760,1)" font-size="31" font-weight="bold" font-family="Liberation Sans, Arial, sans-serif" fill="#000">HUVEC</text>
<text x="341.00" y="1866.00" text-anchor="middle" font-size="31" font-family="Liberation Sans, Arial, sans-serif" fill="#000">13</text>
<text x="481.55" y="1866.00" text-anchor="middle" font-size="31" font-family="Liberation Sans, Arial, sans-serif" fill="#000">13</text>
<text x="622.05" y="1866.00" text-anchor="middle" font-size="31" font-family="Liberation Sans, Arial, sans-serif" fill="#000">6</text>
<text x="755.95" y="1866.00" text-anchor="middle" font-size="31" font-family="Liberation Sans, Arial, sans-serif" fill="#000">0</text>
<text transform="translate(149.88,1910.20) scale(0.7554,1)" font-size="31" font-weight="bold" font-family="Liberation Sans, Arial, sans-serif" fill="#000">LSEC</text>
<text x="341.00" y="1910.20" text-anchor="middle" font-size="31" font-family="Liberation Sans, Arial, sans-serif" fill="#000">0</text>
<text x="481.55" y="1910.20" text-anchor="middle" font-size="31" font-family="Liberation Sans, Arial, sans-serif" fill="#000">2</text>
<text x="622.05" y="1910.20" text-anchor="middle" font-size="31" font-family="Liberation Sans, Arial, sans-serif" fill="#000">0</text>
<text x="755.95" y="1910.20" text-anchor="middle" font-size="31" font-family="Liberation Sans, Arial, sans-serif" fill="#000">12</text>
<text x="882.85" y="1910.20" text-anchor="middle" font-size="31" font-family="Liberation Sans, Arial, sans-serif" fill="#000">0</text>
<line x1="39.2" y1="2355.8" x2="1997.1" y2="2355.8" stroke="#000" stroke-width="3.5"/>
<line x1="39.2" y1="2400.5" x2="1997.1" y2="2400.5" stroke="#707070" stroke-width="2.2"/>
<line x1="39.2" y1="2445.6" x2="1997.1" y2="2445.6" stroke="#707070" stroke-width="2.2"/>
<line x1="39.2" y1="2490.4" x2="1997.1" y2="2490.4" stroke="#707070" stroke-width="2.2"/>
<line x1="39.2" y1="2535.1" x2="1997.1" y2="2535.1" stroke="#707070" stroke-width="2.2"/>
<line x1="39.2" y1="2579.4" x2="1997.1" y2="2579.4" stroke="#707070" stroke-width="2.2"/>
<line x1="39.2" y1="2624.1" x2="1997.1" y2="2624.1" stroke="#707070" stroke-width="2.2"/>
<line x1="39.2" y1="2669.2" x2="1997.1" y2="2669.2" stroke="#707070" stroke-width="2.2"/>
<line x1="39.2" y1="2713.6" x2="1997.1" y2="2713.6" stroke="#707070" stroke-width="2.2"/>
<line x1="39.2" y1="2758.3" x2="1997.1" y2="2758.3" stroke="#707070" stroke-width="2.2"/>
<line x1="39.2" y1="2802.8" x2="1997.1" y2="2802.8" stroke="#707070" stroke-width="2.2"/>
<line x1="304.4" y1="2265.1" x2="304.4" y2="2848.0" stroke="#000" stroke-width="3.6"/>
<line x1="453.2" y1="2265.1" x2="453.2" y2="2848.0" stroke="#8a8a8a" stroke-width="2.2"/>
<line x1="585.9" y1="2265.1" x2="585.9" y2="2848.0" stroke="#8a8a8a" stroke-width="2.2"/>
<line x1="745.8" y1="2265.1" x2="745.8" y2="2848.0" stroke="#8a8a8a" stroke-width="2.2"/>
<line x1="899.9" y1="2265.1" x2="899.9" y2="2848.0" stroke="#8a8a8a" stroke-width="2.2"/>
<line x1="1052.8" y1="2265.1" x2="1052.8" y2="2848.0" stroke="#8a8a8a" stroke-width="2.2"/>
<line x1="1207.3" y1="2265.1" x2="1207.3" y2="2848.0" stroke="#8a8a8a" stroke-width="2.2"/>
<line x1="1364.8" y1="2265.1" x2="1364.8" y2="2848.0" stroke="#8a8a8a" stroke-width="2.2"/>
<line x1="1525.2" y1="2265.1" x2="1525.2" y2="2848.0" stroke="#8a8a8a" stroke-width="2.2"/>
<line x1="1688.5" y1="2265.1" x2="1688.5" y2="2848.0" stroke="#8a8a8a" stroke-width="2.2"/>
<line x1="1842.8" y1="2265.1" x2="1842.8" y2="2848.0" stroke="#8a8a8a" stroke-width="2.2"/>
<text transform="translate(328.38,2322.10) scale(1.0019,1)" font-size="31" font-weight="bold" font-family="Liberation Sans, Arial, sans-serif" fill="#000">B cells</text>
<text transform="translate(490.09,2299.10) scale(0.9998,1)" font-size="31" font-weight="bold" font-family="Liberation Sans, Arial, sans-serif" fill="#000">Pan</text>
<text transform="translate(472.90,2345.90) scale(0.9804,1)" font-size="31" font-weight="bold" font-family="Liberation Sans, Arial, sans-serif" fill="#000">T cells</text>
<text transform="translate(617.99,2299.10) scale(0.9952,1)" font-size="31" font-weight="bold" font-family="Liberation Sans, Arial, sans-serif" fill="#000">T cells</text>
<text transform="translate(613.94,2345.90) scale(1.0081,1)" font-size="31" font-weight="bold" font-family="Liberation Sans, Arial, sans-serif" fill="#000">(CD4+)</text>
<text transform="translate(774.89,2299.10) scale(0.9952,1)" font-size="31" font-weight="bold" font-family="Liberation Sans, Arial, sans-serif" fill="#000">T cells</text>
<text transform="translate(771.63,2345.90) scale(1.0143,1)" font-size="31" font-weight="bold" font-family="Liberation Sans, Arial, sans-serif" fill="#000">(CD8+)</text>
<text transform="translate(936.90,2322.10) scale(0.9548,1)" font-size="31" font-weight="bold" font-family="Liberation Sans, Arial, sans-serif" fill="#000">Tregs</text>
<text transform="translate(1074.63,2322.10) scale(0.9798,1)" font-size="31" font-weight="bold" font-family="Liberation Sans, Arial, sans-serif" fill="#000">Pan NK</text>
<text transform="translate(1263.60,2299.10) scale(0.9453,1)" font-size="31" font-weight="bold" font-family="Liberation Sans, Arial, sans-serif" fill="#000">NK</text>
<text transform="translate(1225.01,2345.90) scale(1.0243,1)" font-size="31" font-weight="bold" font-family="Liberation Sans, Arial, sans-serif" fill="#000">(CD16+)</text>
<text transform="translate(1422.49,2299.10) scale(0.9500,1)" font-size="31" font-weight="bold" font-family="Liberation Sans, Arial, sans-serif" fill="#000">NK</text>
<text transform="translate(1382.79,2345.90) scale(1.0414,1)" font-size="31" font-weight="bold" font-family="Liberation Sans, Arial, sans-serif" fill="#000">(CD16–)</text>
<text transform="translate(1545.74,2299.10) scale(1.0180,1)" font-size="31" font-weight="bold" font-family="Liberation Sans, Arial, sans-serif" fill="#000">Granulo</text>
<text transform="translate(1567.27,2345.90) scale(0.9958,1)" font-size="31" font-weight="bold" font-family="Liberation Sans, Arial, sans-serif" fill="#000">cytes</text>
<text transform="translate(1711.84,2299.10) scale(1.0718,1)" font-size="31" font-weight="bold" font-family="Liberation Sans, Arial, sans-serif" fill="#000">Neutro</text>
<text transform="translate(1728.14,2345.90) scale(1.0221,1)" font-size="31" font-weight="bold" font-family="Liberation Sans, Arial, sans-serif" fill="#000">phils</text>
<text transform="translate(1874.06,2299.10) scale(1.1101,1)" font-size="31" font-weight="bold" font-family="Liberation Sans, Arial, sans-serif" fill="#000">Mono</text>
<text transform="translate(1880.86,2345.90) scale(0.9971,1)" font-size="31" font-weight="bold" font-family="Liberation Sans, Arial, sans-serif" fill="#000">cytes</text>
<text transform="translate(121.18,2390.60) scale(1.0029,1)" font-size="31" font-weight="bold" font-family="Liberation Sans, Arial, sans-serif" fill="#000">B cells</text>
<text x="378.80" y="2390.60" text-anchor="middle" font-size="31" font-family="Liberation Sans, Arial, sans-serif" fill="#000">0</text>
<text transform="translate(90.59,2435.60) scale(0.9986,1)" font-size="31" font-weight="bold" font-family="Liberation Sans, Arial, sans-serif" fill="#000">Pan T cells</text>
<text x="378.80" y="2435.60" text-anchor="middle" font-size="31" font-family="Liberation Sans, Arial, sans-serif" fill="#000">5</text>
<text x="519.55" y="2435.60" text-anchor="middle" font-size="31" font-family="Liberation Sans, Arial, sans-serif" fill="#000">0</text>
<text transform="translate(69.69,2480.00) scale(0.9876,1)" font-size="31" font-weight="bold" font-family="Liberation Sans, Arial, sans-serif" fill="#000">T cells (CD4+)</text>
<text x="378.80" y="2480.00" text-anchor="middle" font-size="31" font-family="Liberation Sans, Arial, sans-serif" fill="#000">8</text>
<text x="519.55" y="2480.00" text-anchor="middle" font-size="31" font-family="Liberation Sans, Arial, sans-serif" fill="#000">0</text>
<text x="665.85" y="2480.00" text-anchor="middle" font-size="31" font-family="Liberation Sans, Arial, sans-serif" fill="#000">0</text>
<text transform="translate(69.69,2524.80) scale(0.9876,1)" font-size="31" font-weight="bold" font-family="Liberation Sans, Arial, sans-serif" fill="#000">T cells (CD8+)</text>
<text x="378.80" y="2524.80" text-anchor="middle" font-size="31" font-family="Liberation Sans, Arial, sans-serif" fill="#000">5</text>
<text x="519.55" y="2524.80" text-anchor="middle" font-size="31" font-family="Liberation Sans, Arial, sans-serif" fill="#000">0</text>
<text x="665.85" y="2524.80" text-anchor="middle" font-size="31" font-family="Liberation Sans, Arial, sans-serif" fill="#000">0</text>
<text x="822.85" y="2524.80" text-anchor="middle" font-size="31" font-family="Liberation Sans, Arial, sans-serif" fill="#000">0</text>
<text transform="translate(131.70,2569.60) scale(0.9696,1)" font-size="31" font-weight="bold" font-family="Liberation Sans, Arial, sans-serif" fill="#000">Tregs</text>
<text x="378.80" y="2569.60" text-anchor="middle" font-size="31" font-family="Liberation Sans, Arial, sans-serif" fill="#000">5</text>
<text x="519.55" y="2569.60" text-anchor="middle" font-size="31" font-family="Liberation Sans, Arial, sans-serif" fill="#000">0</text>
<text x="665.85" y="2569.60" text-anchor="middle" font-size="31" font-family="Liberation Sans, Arial, sans-serif" fill="#000">0</text>
<text x="822.85" y="2569.60" text-anchor="middle" font-size="31" font-family="Liberation Sans, Arial, sans-serif" fill="#000">0</text>
<text x="976.35" y="2569.60" text-anchor="middle" font-size="31" font-family="Liberation Sans, Arial, sans-serif" fill="#000">0</text>
<text transform="translate(117.52,2614.50) scale(0.9807,1)" font-size="31" font-weight="bold" font-family="Liberation Sans, Arial, sans-serif" fill="#000">Pan NK</text>
<text x="378.80" y="2614.50" text-anchor="middle" font-size="31" font-family="Liberation Sans, Arial, sans-serif" fill="#000">0</text>
<text x="519.55" y="2614.50" text-anchor="middle" font-size="31" font-family="Liberation Sans, Arial, sans-serif" fill="#000">0</text>
<text x="665.85" y="2614.50" text-anchor="middle" font-size="31" font-family="Liberation Sans, Arial, sans-serif" fill="#000">0</text>
<text x="822.85" y="2614.50" text-anchor="middle" font-size="31" font-family="Liberation Sans, Arial, sans-serif" fill="#000">0</text>
<text x="976.35" y="2614.50" text-anchor="middle" font-size="31" font-family="Liberation Sans, Arial, sans-serif" fill="#000">0</text>
<text x="1130.05" y="2614.50" text-anchor="middle" font-size="31" font-family="Liberation Sans, Arial, sans-serif" fill="#000">0</text>
<text transform="translate(85.88,2658.70) scale(1.0026,1)" font-size="31" font-weight="bold" font-family="Liberation Sans, Arial, sans-serif" fill="#000">NK (CD16+)</text>
<text x="378.80" y="2658.70" text-anchor="middle" font-size="31" font-family="Liberation Sans, Arial, sans-serif" fill="#000">9</text>
<text x="519.55" y="2658.70" text-anchor="middle" font-size="31" font-family="Liberation Sans, Arial, sans-serif" fill="#000">0</text>
<text x="665.85" y="2658.70" text-anchor="middle" font-size="31" font-family="Liberation Sans, Arial, sans-serif" fill="#000">19</text>
<text x="822.85" y="2658.70" text-anchor="middle" font-size="31" font-family="Liberation Sans, Arial, sans-serif" fill="#000">0</text>
<text x="976.35" y="2658.70" text-anchor="middle" font-size="31" font-family="Liberation Sans, Arial, sans-serif" fill="#000">3</text>
<text x="1130.05" y="2658.70" text-anchor="middle" font-size="31" font-family="Liberation Sans, Arial, sans-serif" fill="#000">0</text>
<text x="1286.05" y="2658.70" text-anchor="middle" font-size="31" font-family="Liberation Sans, Arial, sans-serif" fill="#000">0</text>
<text transform="translate(84.44,2703.60) scale(1.0204,1)" font-size="31" font-weight="bold" font-family="Liberation Sans, Arial, sans-serif" fill="#000">NK (CD16–)</text>
<text x="378.80" y="2703.60" text-anchor="middle" font-size="31" font-family="Liberation Sans, Arial, sans-serif" fill="#000">5</text>
<text x="519.55" y="2703.60" text-anchor="middle" font-size="31" font-family="Liberation Sans, Arial, sans-serif" fill="#000">0</text>
<text x="665.85" y="2703.60" text-anchor="middle" font-size="31" font-family="Liberation Sans, Arial, sans-serif" fill="#000">3</text>
<text x="822.85" y="2703.60" text-anchor="middle" font-size="31" font-family="Liberation Sans, Arial, sans-serif" fill="#000">0</text>
<text x="976.35" y="2703.60" text-anchor="middle" font-size="31" font-family="Liberation Sans, Arial, sans-serif" fill="#000">1</text>
<text x="1130.05" y="2703.60" text-anchor="middle" font-size="31" font-family="Liberation Sans, Arial, sans-serif" fill="#000">0</text>
<text x="1286.05" y="2703.60" text-anchor="middle" font-size="31" font-family="Liberation Sans, Arial, sans-serif" fill="#000">0</text>
<text x="1445.00" y="2703.60" text-anchor="middle" font-size="31" font-family="Liberation Sans, Arial, sans-serif" fill="#000">0</text>
<text transform="translate(72.76,2748.40) scale(1.0030,1)" font-size="31" font-weight="bold" font-family="Liberation Sans, Arial, sans-serif" fill="#000">Granulocytes</text>
<text x="378.80" y="2748.40" text-anchor="middle" font-size="31" font-family="Liberation Sans, Arial, sans-serif" fill="#000">17</text>
<text x="519.55" y="2748.40" text-anchor="middle" font-size="31" font-family="Liberation Sans, Arial, sans-serif" fill="#000">18</text>
<text x="665.85" y="2748.40" text-anchor="middle" font-size="31" font-family="Liberation Sans, Arial, sans-serif" fill="#000">26</text>
<text x="822.85" y="2748.40" text-anchor="middle" font-size="31" font-family="Liberation Sans, Arial, sans-serif" fill="#000">11</text>
<text x="976.35" y="2748.40" text-anchor="middle" font-size="31" font-family="Liberation Sans, Arial, sans-serif" fill="#000">13</text>
<text x="1130.05" y="2748.40" text-anchor="middle" font-size="31" font-family="Liberation Sans, Arial, sans-serif" fill="#000">4</text>
<text x="1286.05" y="2748.40" text-anchor="middle" font-size="31" font-family="Liberation Sans, Arial, sans-serif" fill="#000">11</text>
<text x="1445.00" y="2748.40" text-anchor="middle" font-size="31" font-family="Liberation Sans, Arial, sans-serif" fill="#000">10</text>
<text x="1606.85" y="2748.40" text-anchor="middle" font-size="31" font-family="Liberation Sans, Arial, sans-serif" fill="#000">0</text>
<text transform="translate(82.91,2793.20) scale(1.0352,1)" font-size="31" font-weight="bold" font-family="Liberation Sans, Arial, sans-serif" fill="#000">Neutrophils</text>
<text x="378.80" y="2793.20" text-anchor="middle" font-size="31" font-family="Liberation Sans, Arial, sans-serif" fill="#000">17</text>
<text x="519.55" y="2793.20" text-anchor="middle" font-size="31" font-family="Liberation Sans, Arial, sans-serif" fill="#000">16</text>
<text x="665.85" y="2793.20" text-anchor="middle" font-size="31" font-family="Liberation Sans, Arial, sans-serif" fill="#000">24</text>
<text x="822.85" y="2793.20" text-anchor="middle" font-size="31" font-family="Liberation Sans, Arial, sans-serif" fill="#000">9</text>
<text x="976.35" y="2793.20" text-anchor="middle" font-size="31" font-family="Liberation Sans, Arial, sans-serif" fill="#000">12</text>
<text x="1130.05" y="2793.20" text-anchor="middle" font-size="31" font-family="Liberation Sans, Arial, sans-serif" fill="#000">4</text>
<text x="1286.05" y="2793.20" text-anchor="middle" font-size="31" font-family="Liberation Sans, Arial, sans-serif" fill="#000">9</text>
<text x="1445.00" y="2793.20" text-anchor="middle" font-size="31" font-family="Liberation Sans, Arial, sans-serif" fill="#000">60</text>
<text x="1606.85" y="2793.20" text-anchor="middle" font-size="31" font-family="Liberation Sans, Arial, sans-serif" fill="#000">0</text>
<text x="1765.65" y="2793.20" text-anchor="middle" font-size="31" font-family="Liberation Sans, Arial, sans-serif" fill="#000">0</text>
<text transform="translate(86.59,2838.80) scale(1.0469,1)" font-size="31" font-weight="bold" font-family="Liberation Sans, Arial, sans-serif" fill="#000">Monocytes</text>
<text x="378.80" y="2838.80" text-anchor="middle" font-size="31" font-family="Liberation Sans, Arial, sans-serif" fill="#000">14</text>
<text x="519.55" y="2838.80" text-anchor="middle" font-size="31" font-family="Liberation Sans, Arial, sans-serif" fill="#000">18</text>
<text x="665.85" y="2838.80" text-anchor="middle" font-size="31" font-family="Liberation Sans, Arial, sans-serif" fill="#000">22</text>
<text x="822.85" y="2838.80" text-anchor="middle" font-size="31" font-family="Liberation Sans, Arial, sans-serif" fill="#000">10</text>
<text x="976.35" y="2838.80" text-anchor="middle" font-size="31" font-family="Liberation Sans, Arial, sans-serif" fill="#000">10</text>
<text x="1130.05" y="2838.80" text-anchor="middle" font-size="31" font-family="Liberation Sans, Arial, sans-serif" fill="#000">3</text>
<text x="1286.05" y="2838.80" text-anchor="middle" font-size="31" font-family="Liberation Sans, Arial, sans-serif" fill="#000">10</text>
<text x="1445.00" y="2838.80" text-anchor="middle" font-size="31" font-family="Liberation Sans, Arial, sans-serif" fill="#000">10</text>
<text x="1606.85" y="2838.80" text-anchor="middle" font-size="31" font-family="Liberation Sans, Arial, sans-serif" fill="#000">0</text>
<text x="1765.65" y="2838.80" text-anchor="middle" font-size="31" font-family="Liberation Sans, Arial, sans-serif" fill="#000">0</text>
<text x="1919.95" y="2838.80" text-anchor="middle" font-size="31" font-family="Liberation Sans, Arial, sans-serif" fill="#000">0</text>
</svg>
</body></html>
